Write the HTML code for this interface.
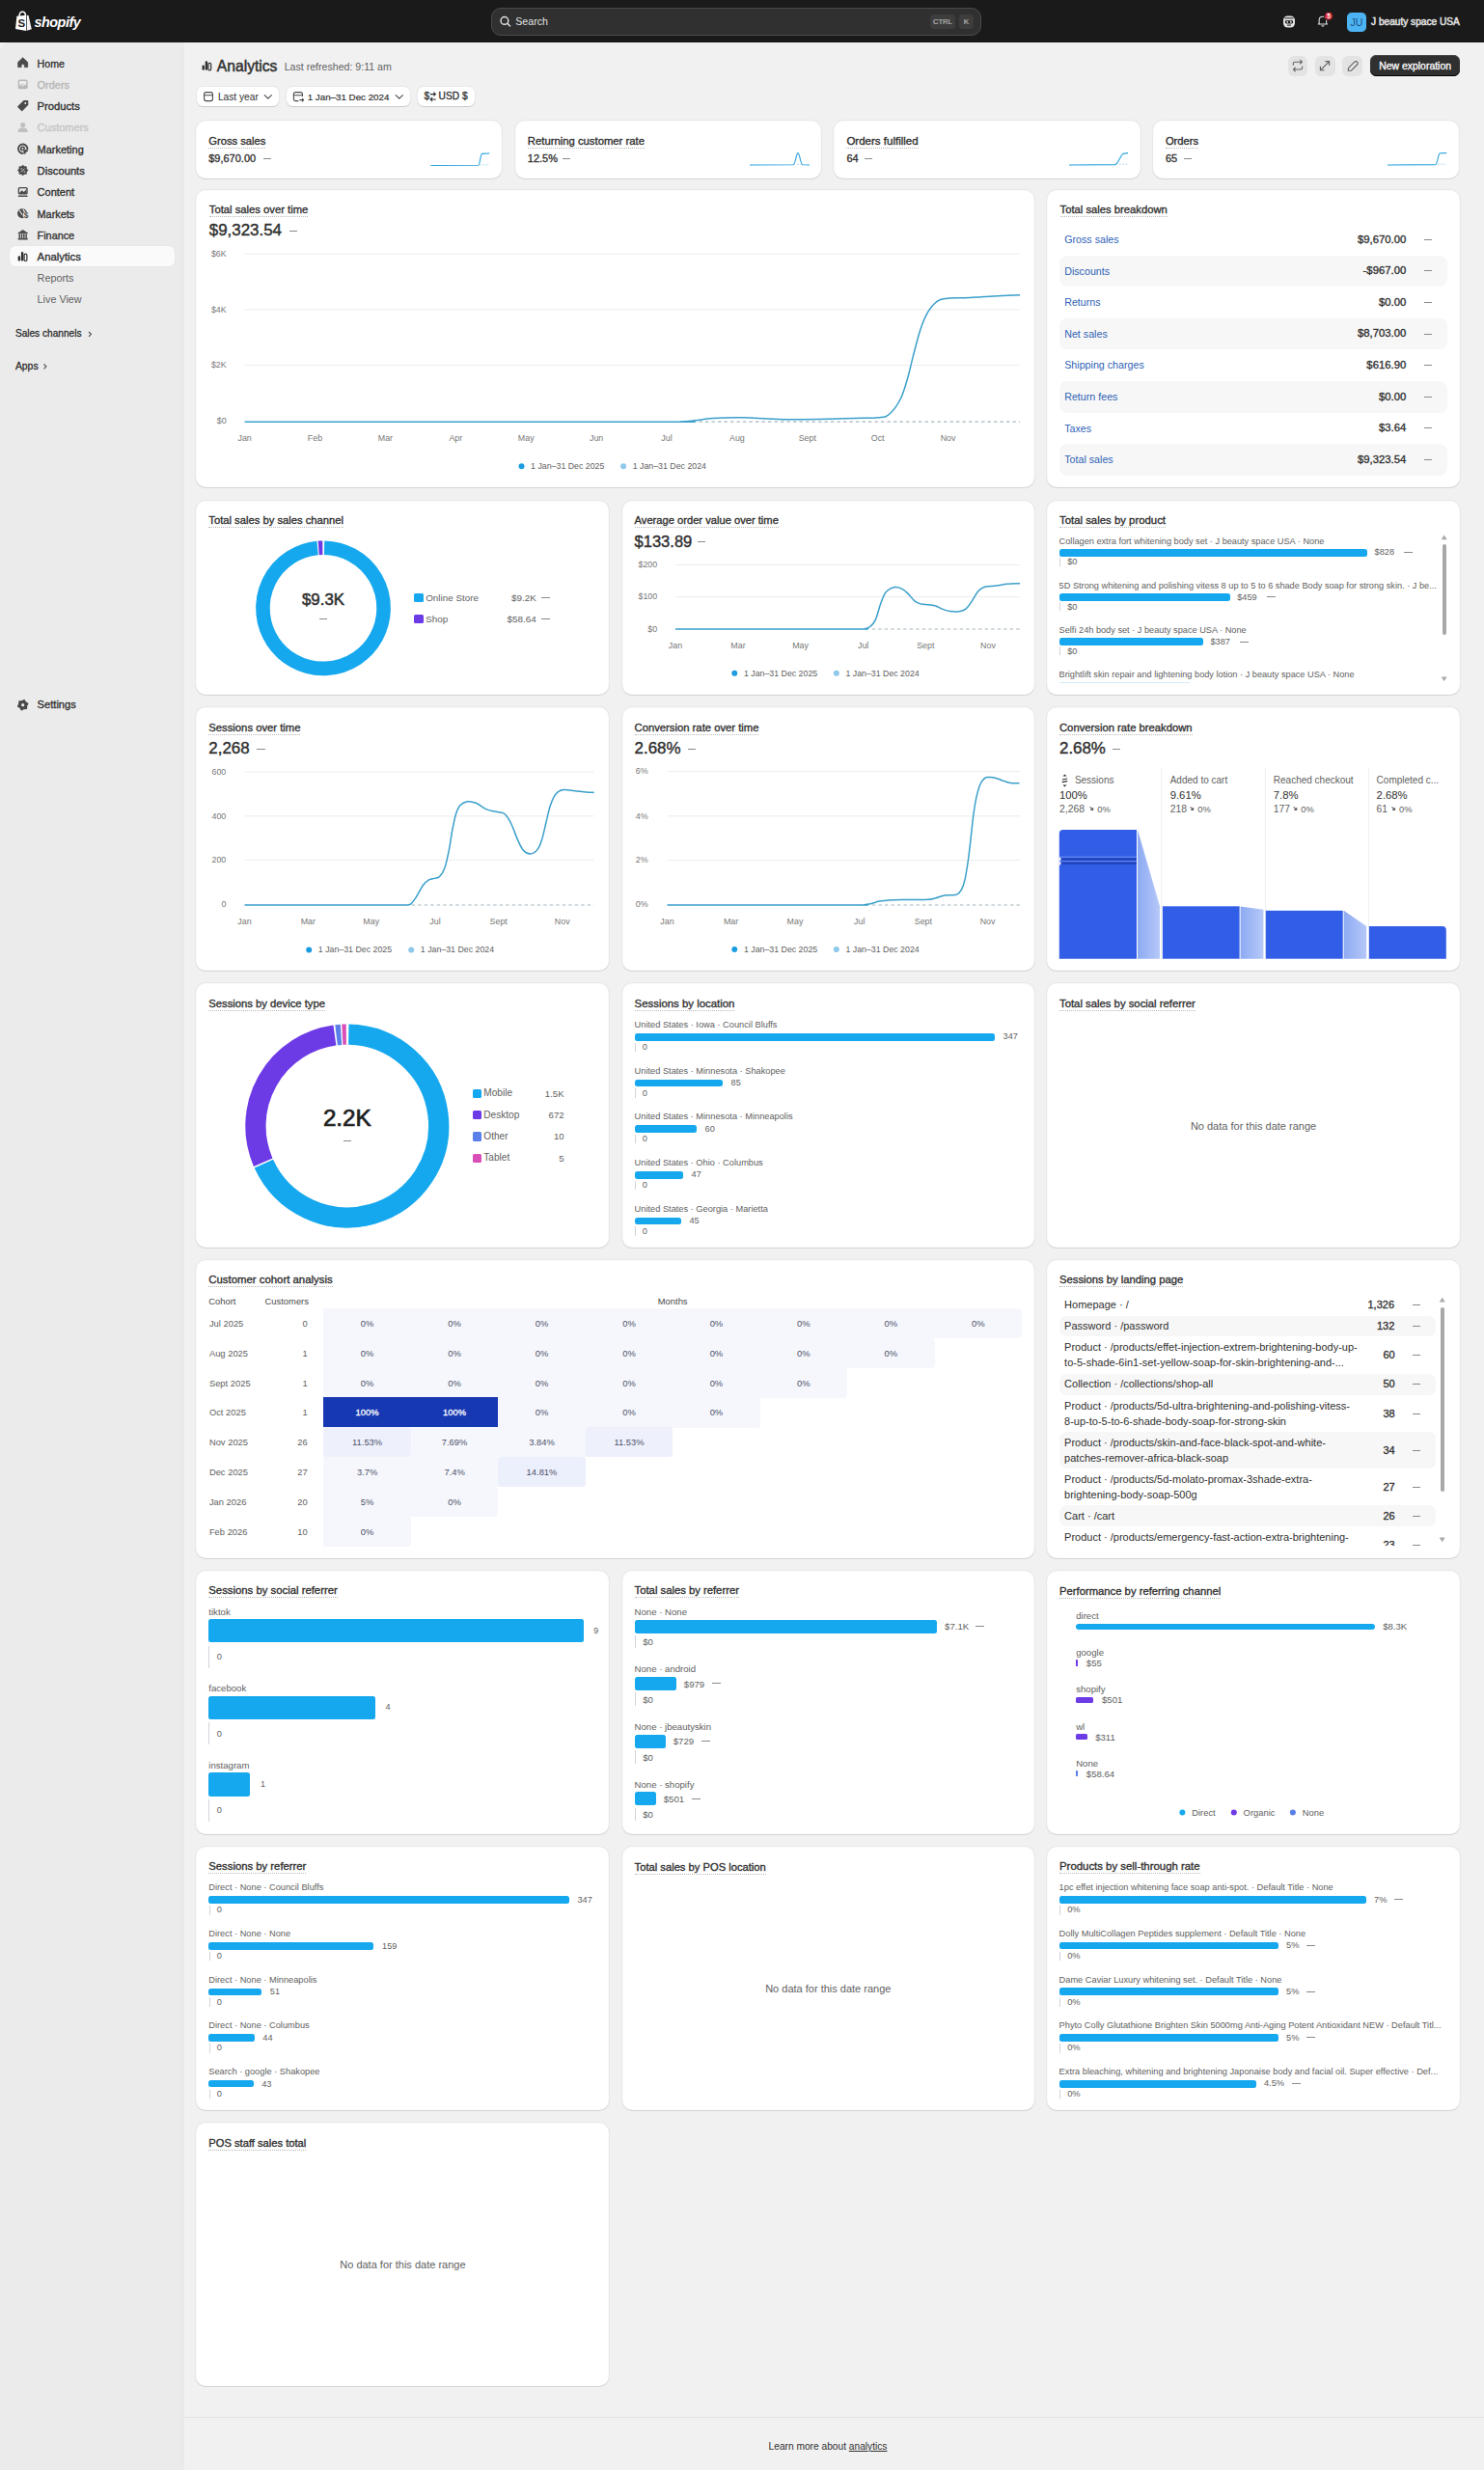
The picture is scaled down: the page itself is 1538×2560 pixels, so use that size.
<!DOCTYPE html><html><head><meta charset="utf-8"><style>
*{box-sizing:border-box;margin:0;padding:0}
html,body{width:1538px;height:2560px;overflow:hidden}
body{background:#f1f1f1;font-family:"Liberation Sans",sans-serif;position:relative;color:#303030}
.card{position:absolute;background:#fff;border-radius:10px;box-shadow:0 1px 0 0 rgba(26,26,26,0.09),0 0 0 1px rgba(26,26,26,0.04),inset 0 0 0 1px rgba(0,0,0,0.015)}
.ttl{border-bottom:1px dotted #b8b8b8;line-height:11px !important;padding-bottom:1px}
svg{position:absolute;left:0;top:0}
</style></head><body>
<div style="position:absolute;left:0.00px;top:0.00px;width:1538.00px;height:44.00px;background:#1a1a1a;border-radius:0px;"></div>
<div style="position:absolute;left:0.00px;top:44.00px;width:191.00px;height:2516.00px;background:#ebebeb;border-radius:0px;border-top-left-radius:10px;"></div>
<div style="position:absolute;left:185.00px;top:50.00px;width:6.00px;height:2510.00px;background:#eaeaea;border-radius:0px;"></div>
<div style="position:absolute;left:191.00px;top:2505.00px;width:1347.00px;height:1.00px;background:#e3e3e3;border-radius:0px;"></div>
<div class="card" style="left:203.20px;top:125.00px;width:317.30px;height:60.20px"></div>
<div class="card" style="left:533.80px;top:125.00px;width:317.30px;height:60.20px"></div>
<div class="card" style="left:864.40px;top:125.00px;width:317.30px;height:60.20px"></div>
<div class="card" style="left:1194.90px;top:125.00px;width:317.30px;height:60.20px"></div>
<div class="card" style="left:203.20px;top:196.50px;width:869.10px;height:308.80px"></div>
<div class="card" style="left:1085.20px;top:196.50px;width:427.50px;height:308.80px"></div>
<div class="card" style="left:203.20px;top:519.00px;width:427.50px;height:201.00px"></div>
<div class="card" style="left:644.80px;top:519.00px;width:427.50px;height:201.00px"></div>
<div class="card" style="left:1085.20px;top:519.00px;width:427.50px;height:201.00px"></div>
<div class="card" style="left:203.20px;top:733.20px;width:427.50px;height:273.00px"></div>
<div class="card" style="left:644.80px;top:733.20px;width:427.50px;height:273.00px"></div>
<div class="card" style="left:1085.20px;top:733.20px;width:427.50px;height:273.00px"></div>
<div class="card" style="left:203.20px;top:1019.30px;width:427.50px;height:273.30px"></div>
<div class="card" style="left:644.80px;top:1019.30px;width:427.50px;height:273.30px"></div>
<div class="card" style="left:1085.20px;top:1019.30px;width:427.50px;height:273.30px"></div>
<div class="card" style="left:203.20px;top:1628.00px;width:427.50px;height:272.60px"></div>
<div class="card" style="left:644.80px;top:1628.00px;width:427.50px;height:272.60px"></div>
<div class="card" style="left:1085.20px;top:1628.00px;width:427.50px;height:272.60px"></div>
<div class="card" style="left:203.20px;top:1914.20px;width:427.50px;height:272.80px"></div>
<div class="card" style="left:644.80px;top:1914.20px;width:427.50px;height:272.80px"></div>
<div class="card" style="left:1085.20px;top:1914.20px;width:427.50px;height:272.80px"></div>
<div class="card" style="left:203.20px;top:1305.60px;width:869.10px;height:309.00px"></div>
<div class="card" style="left:1085.20px;top:1305.60px;width:427.50px;height:309.00px"></div>
<div class="card" style="left:203.20px;top:2200.20px;width:427.50px;height:273.20px"></div>
<div style="position:absolute;left:35.4px;top:15.8px;font-size:14.4px;line-height:14.4px;font-weight:700;font-style:italic;letter-spacing:-0.45px;color:#fff;white-space:nowrap">shopify</div>
<div style="position:absolute;left:508.90px;top:7.90px;width:508.20px;height:29.00px;background:#303030;border-radius:10px;border:1px solid #4a4a4a;"></div>
<div style="position:absolute;left:534.30px;top:16.13px;font-size:10.6px;line-height:12.72px;color:#e3e3e3;white-space:nowrap;">Search</div>
<div style="position:absolute;left:963.60px;top:15.00px;width:26.40px;height:15.30px;background:#3d3d3d;border-radius:4px;"></div>
<div style="position:absolute;left:676.80px;width:600px;text-align:center;top:18.22px;font-size:7.55px;line-height:9.06px;color:#b5b5b5;-webkit-text-stroke:0.23px #b5b5b5;white-space:nowrap;">CTRL</div>
<div style="position:absolute;left:994.00px;top:15.00px;width:15.00px;height:15.30px;background:#3d3d3d;border-radius:4px;"></div>
<div style="position:absolute;left:701.50px;width:600px;text-align:center;top:17.93px;font-size:8.01px;line-height:9.61px;color:#b5b5b5;-webkit-text-stroke:0.24px #b5b5b5;white-space:nowrap;">K</div>
<div style="position:absolute;left:1395.00px;top:11.50px;width:21.80px;height:22.20px;background:#4cb4f2;border-radius:6px;border:1px solid #1a1a1a;"></div>
<div style="position:absolute;left:1105.90px;width:600px;text-align:center;top:16.73px;font-size:10.6px;line-height:12.72px;color:#1f4d86;white-space:nowrap;">JU</div>
<div style="position:absolute;left:1421.00px;top:16.92px;font-size:10.13px;line-height:12.16px;color:#e3e3e3;-webkit-text-stroke:0.5px #e3e3e3;white-space:nowrap;">J beauty space USA</div>
<div style="position:absolute;left:10.10px;top:255.00px;width:170.80px;height:21.30px;background:#fafafa;border-radius:6px;box-shadow:0 0 0 0.5px rgba(0,0,0,0.03);"></div>
<div style="position:absolute;left:38.60px;top:59.52px;font-size:10.62px;line-height:12.74px;color:#303030;-webkit-text-stroke:0.32px #303030;white-space:nowrap;">Home</div>
<div style="position:absolute;left:38.60px;top:81.72px;font-size:10.94px;line-height:13.13px;color:#b5b5b5;-webkit-text-stroke:0.33px #b5b5b5;white-space:nowrap;">Orders</div>
<div style="position:absolute;left:38.60px;top:103.86px;font-size:11.2px;line-height:13.44px;color:#303030;-webkit-text-stroke:0.34px #303030;white-space:nowrap;">Products</div>
<div style="position:absolute;left:38.60px;top:126.27px;font-size:11.02px;line-height:13.22px;color:#c5c5c5;-webkit-text-stroke:0.33px #c5c5c5;white-space:nowrap;">Customers</div>
<div style="position:absolute;left:38.60px;top:148.50px;font-size:10.97px;line-height:13.16px;color:#303030;-webkit-text-stroke:0.33px #303030;white-space:nowrap;">Marketing</div>
<div style="position:absolute;left:38.60px;top:170.64px;font-size:11.23px;line-height:13.48px;color:#303030;-webkit-text-stroke:0.34px #303030;white-space:nowrap;">Discounts</div>
<div style="position:absolute;left:38.60px;top:193.18px;font-size:11.0px;line-height:13.2px;color:#303030;-webkit-text-stroke:0.33px #303030;white-space:nowrap;">Content</div>
<div style="position:absolute;left:38.60px;top:215.58px;font-size:10.84px;line-height:13.01px;color:#303030;-webkit-text-stroke:0.33px #303030;white-space:nowrap;">Markets</div>
<div style="position:absolute;left:38.60px;top:237.88px;font-size:10.83px;line-height:13.0px;color:#303030;-webkit-text-stroke:0.32px #303030;white-space:nowrap;">Finance</div>
<div style="position:absolute;left:38.60px;top:259.97px;font-size:11.33px;line-height:13.6px;color:#303030;-webkit-text-stroke:0.34px #303030;white-space:nowrap;">Analytics</div>
<div style="position:absolute;left:38.60px;top:281.70px;font-size:10.8px;line-height:12.96px;color:#616161;white-space:nowrap;">Reports</div>
<div style="position:absolute;left:38.60px;top:303.90px;font-size:10.8px;line-height:12.96px;color:#616161;white-space:nowrap;">Live View</div>
<div style="position:absolute;left:15.90px;top:340.33px;font-size:10.12px;line-height:12.14px;color:#303030;-webkit-text-stroke:0.3px #303030;white-space:nowrap;">Sales channels</div>
<div style="position:absolute;left:15.90px;top:373.64px;font-size:10.42px;line-height:12.5px;color:#303030;-webkit-text-stroke:0.31px #303030;white-space:nowrap;">Apps</div>
<div style="position:absolute;left:38.60px;top:724.09px;font-size:11.14px;line-height:13.37px;color:#303030;-webkit-text-stroke:0.33px #303030;white-space:nowrap;">Settings</div>
<div style="position:absolute;left:224.80px;top:59.79px;font-size:15.67px;line-height:18.8px;color:#303030;-webkit-text-stroke:0.47px #303030;white-space:nowrap;">Analytics</div>
<div style="position:absolute;left:294.70px;top:62.53px;font-size:10.6px;line-height:12.72px;color:#616161;white-space:nowrap;">Last refreshed: 9:11 am</div>
<div style="position:absolute;left:1334.50px;top:57.70px;width:20.90px;height:20.90px;background:#e3e3e3;border-radius:6px;"></div>
<div style="position:absolute;left:1363.00px;top:57.70px;width:20.90px;height:20.90px;background:#e3e3e3;border-radius:6px;"></div>
<div style="position:absolute;left:1391.40px;top:57.70px;width:20.90px;height:20.90px;background:#e3e3e3;border-radius:6px;"></div>
<div style="position:absolute;left:1420.00px;top:57.30px;width:93.30px;height:21.60px;background:#303030;border-radius:6.5px;box-shadow:inset 0 -1px 0 #000, inset 0 1px 0 #4a4a4a;"></div>
<div style="position:absolute;left:1166.60px;width:600px;text-align:center;top:62.82px;font-size:10.45px;line-height:12.54px;color:#ffffff;-webkit-text-stroke:0.31px #ffffff;white-space:nowrap;">New exploration</div>
<div style="position:absolute;left:204.20px;top:90.10px;width:84.70px;height:20.20px;background:#ffffff;border-radius:6px;box-shadow:0 1px 0 0 rgba(0,0,0,0.12), 0 0 0 1px rgba(0,0,0,0.04);"></div>
<div style="position:absolute;left:297.20px;top:90.10px;width:127.60px;height:20.20px;background:#ffffff;border-radius:6px;box-shadow:0 1px 0 0 rgba(0,0,0,0.12), 0 0 0 1px rgba(0,0,0,0.04);"></div>
<div style="position:absolute;left:432.80px;top:90.10px;width:59.10px;height:20.20px;background:#ffffff;border-radius:6px;box-shadow:0 1px 0 0 rgba(0,0,0,0.12), 0 0 0 1px rgba(0,0,0,0.04);"></div>
<div style="position:absolute;left:225.90px;top:94.98px;font-size:10.2px;line-height:12.24px;color:#303030;white-space:nowrap;">Last year</div>
<div style="position:absolute;left:318.70px;top:94.83px;font-size:9.78px;line-height:11.74px;color:#303030;-webkit-text-stroke:0.18px #303030;white-space:nowrap;">1 Jan–31 Dec 2024</div>
<div style="position:absolute;left:439.40px;top:94.38px;font-size:10.2px;line-height:12.24px;color:#303030;-webkit-text-stroke:0.31px #303030;white-space:nowrap;">$</div>
<div style="position:absolute;left:454.60px;top:94.38px;font-size:10.2px;line-height:12.24px;color:#303030;-webkit-text-stroke:0.31px #303030;white-space:nowrap;">USD $</div>
<div class="ttl" style="position:absolute;left:216.20px;top:140.75px;font-size:11.22px;line-height:13.46px;color:#303030;-webkit-text-stroke:0.34px #303030;white-space:nowrap;">Gross sales</div>
<div style="position:absolute;left:216.20px;top:157.98px;font-size:11.0px;line-height:13.2px;color:#303030;-webkit-text-stroke:0.33px #303030;white-space:nowrap;">$9,670.00</div>
<div style="position:absolute;left:272.80px;top:164.10px;width:8.20px;height:1.00px;background:#8a8a8a;border-radius:0px;"></div>
<div class="ttl" style="position:absolute;left:546.80px;top:140.69px;font-size:11.31px;line-height:13.57px;color:#303030;-webkit-text-stroke:0.34px #303030;white-space:nowrap;">Returning customer rate</div>
<div style="position:absolute;left:546.80px;top:157.98px;font-size:11.0px;line-height:13.2px;color:#303030;-webkit-text-stroke:0.33px #303030;white-space:nowrap;">12.5%</div>
<div style="position:absolute;left:582.50px;top:164.10px;width:8.20px;height:1.00px;background:#8a8a8a;border-radius:0px;"></div>
<div class="ttl" style="position:absolute;left:877.40px;top:140.55px;font-size:11.53px;line-height:13.84px;color:#303030;-webkit-text-stroke:0.35px #303030;white-space:nowrap;">Orders fulfilled</div>
<div style="position:absolute;left:877.40px;top:157.98px;font-size:11.0px;line-height:13.2px;color:#303030;-webkit-text-stroke:0.33px #303030;white-space:nowrap;">64</div>
<div style="position:absolute;left:896.10px;top:164.10px;width:8.20px;height:1.00px;background:#8a8a8a;border-radius:0px;"></div>
<div class="ttl" style="position:absolute;left:1207.90px;top:140.75px;font-size:11.21px;line-height:13.45px;color:#303030;-webkit-text-stroke:0.34px #303030;white-space:nowrap;">Orders</div>
<div style="position:absolute;left:1207.90px;top:157.98px;font-size:11.0px;line-height:13.2px;color:#303030;-webkit-text-stroke:0.33px #303030;white-space:nowrap;">65</div>
<div style="position:absolute;left:1226.60px;top:164.10px;width:8.20px;height:1.00px;background:#8a8a8a;border-radius:0px;"></div>
<div class="ttl" style="position:absolute;left:216.80px;top:212.42px;font-size:11.26px;line-height:13.51px;color:#303030;-webkit-text-stroke:0.34px #303030;white-space:nowrap;">Total sales over time</div>
<div style="position:absolute;left:216.80px;top:229.32px;font-size:16.9px;line-height:20.28px;color:#303030;-webkit-text-stroke:0.42px #303030;white-space:nowrap;">$9,323.54</div>
<div style="position:absolute;left:300.20px;top:239.10px;width:8.20px;height:1.00px;background:#8a8a8a;border-radius:0px;"></div>
<div style="position:absolute;right:1303.30px;top:257.98px;font-size:8.9px;line-height:10.68px;color:#777777;white-space:nowrap;">$6K</div>
<div style="position:absolute;right:1303.30px;top:315.68px;font-size:8.9px;line-height:10.68px;color:#777777;white-space:nowrap;">$4K</div>
<div style="position:absolute;right:1303.30px;top:373.18px;font-size:8.9px;line-height:10.68px;color:#777777;white-space:nowrap;">$2K</div>
<div style="position:absolute;right:1303.30px;top:431.18px;font-size:8.9px;line-height:10.68px;color:#777777;white-space:nowrap;">$0</div>
<div style="position:absolute;left:-46.40px;width:600px;text-align:center;top:448.98px;font-size:8.9px;line-height:10.68px;color:#777777;white-space:nowrap;">Jan</div>
<div style="position:absolute;left:26.50px;width:600px;text-align:center;top:448.98px;font-size:8.9px;line-height:10.68px;color:#777777;white-space:nowrap;">Feb</div>
<div style="position:absolute;left:99.40px;width:600px;text-align:center;top:448.98px;font-size:8.9px;line-height:10.68px;color:#777777;white-space:nowrap;">Mar</div>
<div style="position:absolute;left:172.30px;width:600px;text-align:center;top:448.98px;font-size:8.9px;line-height:10.68px;color:#777777;white-space:nowrap;">Apr</div>
<div style="position:absolute;left:245.20px;width:600px;text-align:center;top:448.98px;font-size:8.9px;line-height:10.68px;color:#777777;white-space:nowrap;">May</div>
<div style="position:absolute;left:318.10px;width:600px;text-align:center;top:448.98px;font-size:8.9px;line-height:10.68px;color:#777777;white-space:nowrap;">Jun</div>
<div style="position:absolute;left:391.00px;width:600px;text-align:center;top:448.98px;font-size:8.9px;line-height:10.68px;color:#777777;white-space:nowrap;">Jul</div>
<div style="position:absolute;left:463.90px;width:600px;text-align:center;top:448.98px;font-size:8.9px;line-height:10.68px;color:#777777;white-space:nowrap;">Aug</div>
<div style="position:absolute;left:536.80px;width:600px;text-align:center;top:448.98px;font-size:8.9px;line-height:10.68px;color:#777777;white-space:nowrap;">Sept</div>
<div style="position:absolute;left:609.70px;width:600px;text-align:center;top:448.98px;font-size:8.9px;line-height:10.68px;color:#777777;white-space:nowrap;">Oct</div>
<div style="position:absolute;left:682.60px;width:600px;text-align:center;top:448.98px;font-size:8.9px;line-height:10.68px;color:#777777;white-space:nowrap;">Nov</div>
<div style="position:absolute;left:550.10px;top:478.04px;font-size:8.8px;line-height:10.56px;color:#616161;white-space:nowrap;">1 Jan–31 Dec 2025</div>
<div style="position:absolute;left:655.70px;top:478.04px;font-size:8.8px;line-height:10.56px;color:#616161;white-space:nowrap;">1 Jan–31 Dec 2024</div>
<div class="ttl" style="position:absolute;left:1098.50px;top:212.12px;font-size:11.25px;line-height:13.5px;color:#303030;-webkit-text-stroke:0.34px #303030;white-space:nowrap;">Total sales breakdown</div>
<div style="position:absolute;left:1103.20px;top:241.97px;font-size:10.7px;line-height:12.84px;color:#2f62b5;white-space:nowrap;">Gross sales</div>
<div style="position:absolute;right:80.80px;top:241.59px;font-size:11.3px;line-height:13.56px;color:#303030;-webkit-text-stroke:0.34px #303030;white-space:nowrap;">$9,670.00</div>
<div style="position:absolute;left:1475.70px;top:247.80px;width:8.20px;height:1.00px;background:#8a8a8a;border-radius:0px;"></div>
<div style="position:absolute;left:1098.00px;top:264.60px;width:402.40px;height:32.50px;background:#f7f7f7;border-radius:8px;"></div>
<div style="position:absolute;left:1103.20px;top:274.57px;font-size:10.7px;line-height:12.84px;color:#2f62b5;white-space:nowrap;">Discounts</div>
<div style="position:absolute;right:80.80px;top:274.19px;font-size:11.3px;line-height:13.56px;color:#303030;-webkit-text-stroke:0.34px #303030;white-space:nowrap;">-$967.00</div>
<div style="position:absolute;left:1475.70px;top:280.40px;width:8.20px;height:1.00px;background:#8a8a8a;border-radius:0px;"></div>
<div style="position:absolute;left:1103.20px;top:307.17px;font-size:10.7px;line-height:12.84px;color:#2f62b5;white-space:nowrap;">Returns</div>
<div style="position:absolute;right:80.80px;top:306.79px;font-size:11.3px;line-height:13.56px;color:#303030;-webkit-text-stroke:0.34px #303030;white-space:nowrap;">$0.00</div>
<div style="position:absolute;left:1475.70px;top:313.00px;width:8.20px;height:1.00px;background:#8a8a8a;border-radius:0px;"></div>
<div style="position:absolute;left:1098.00px;top:329.80px;width:402.40px;height:32.50px;background:#f7f7f7;border-radius:8px;"></div>
<div style="position:absolute;left:1103.20px;top:339.77px;font-size:10.7px;line-height:12.84px;color:#2f62b5;white-space:nowrap;">Net sales</div>
<div style="position:absolute;right:80.80px;top:339.39px;font-size:11.3px;line-height:13.56px;color:#303030;-webkit-text-stroke:0.34px #303030;white-space:nowrap;">$8,703.00</div>
<div style="position:absolute;left:1475.70px;top:345.60px;width:8.20px;height:1.00px;background:#8a8a8a;border-radius:0px;"></div>
<div style="position:absolute;left:1103.20px;top:372.37px;font-size:10.7px;line-height:12.84px;color:#2f62b5;white-space:nowrap;">Shipping charges</div>
<div style="position:absolute;right:80.80px;top:371.99px;font-size:11.3px;line-height:13.56px;color:#303030;-webkit-text-stroke:0.34px #303030;white-space:nowrap;">$616.90</div>
<div style="position:absolute;left:1475.70px;top:378.20px;width:8.20px;height:1.00px;background:#8a8a8a;border-radius:0px;"></div>
<div style="position:absolute;left:1098.00px;top:395.00px;width:402.40px;height:32.50px;background:#f7f7f7;border-radius:8px;"></div>
<div style="position:absolute;left:1103.20px;top:404.97px;font-size:10.7px;line-height:12.84px;color:#2f62b5;white-space:nowrap;">Return fees</div>
<div style="position:absolute;right:80.80px;top:404.59px;font-size:11.3px;line-height:13.56px;color:#303030;-webkit-text-stroke:0.34px #303030;white-space:nowrap;">$0.00</div>
<div style="position:absolute;left:1475.70px;top:410.80px;width:8.20px;height:1.00px;background:#8a8a8a;border-radius:0px;"></div>
<div style="position:absolute;left:1103.20px;top:437.57px;font-size:10.7px;line-height:12.84px;color:#2f62b5;white-space:nowrap;">Taxes</div>
<div style="position:absolute;right:80.80px;top:437.19px;font-size:11.3px;line-height:13.56px;color:#303030;-webkit-text-stroke:0.34px #303030;white-space:nowrap;">$3.64</div>
<div style="position:absolute;left:1475.70px;top:443.40px;width:8.20px;height:1.00px;background:#8a8a8a;border-radius:0px;"></div>
<div style="position:absolute;left:1098.00px;top:460.20px;width:402.40px;height:32.50px;background:#f7f7f7;border-radius:8px;"></div>
<div style="position:absolute;left:1103.20px;top:470.17px;font-size:10.7px;line-height:12.84px;color:#2f62b5;white-space:nowrap;">Total sales</div>
<div style="position:absolute;right:80.80px;top:469.79px;font-size:11.3px;line-height:13.56px;color:#303030;-webkit-text-stroke:0.34px #303030;white-space:nowrap;">$9,323.54</div>
<div style="position:absolute;left:1475.70px;top:476.00px;width:8.20px;height:1.00px;background:#8a8a8a;border-radius:0px;"></div>
<div class="ttl" style="position:absolute;left:216.30px;top:533.94px;font-size:11.23px;line-height:13.48px;color:#303030;-webkit-text-stroke:0.34px #303030;white-space:nowrap;">Total sales by sales channel</div>
<div style="position:absolute;left:35.00px;width:600px;text-align:center;top:611.85px;font-size:16.85px;line-height:20.22px;color:#303030;-webkit-text-stroke:0.51px #303030;white-space:nowrap;">$9.3K</div>
<div style="position:absolute;left:331.20px;top:640.90px;width:7.60px;height:1.00px;background:#8a8a8a;border-radius:0px;"></div>
<div style="position:absolute;left:429.30px;top:614.90px;width:9.30px;height:9.30px;background:#16a8ee;border-radius:1.5px;"></div>
<div style="position:absolute;left:429.30px;top:636.90px;width:9.30px;height:9.30px;background:#6d3be6;border-radius:1.5px;"></div>
<div style="position:absolute;left:441.20px;top:613.76px;font-size:9.9px;line-height:11.88px;color:#616161;white-space:nowrap;">Online Store</div>
<div style="position:absolute;left:441.20px;top:635.76px;font-size:9.9px;line-height:11.88px;color:#616161;white-space:nowrap;">Shop</div>
<div style="position:absolute;right:982.20px;top:613.76px;font-size:9.9px;line-height:11.88px;color:#616161;white-space:nowrap;">$9.2K</div>
<div style="position:absolute;right:982.20px;top:635.76px;font-size:9.9px;line-height:11.88px;color:#616161;white-space:nowrap;">$58.64</div>
<div style="position:absolute;left:561.20px;top:618.90px;width:8.60px;height:1.00px;background:#8a8a8a;border-radius:0px;"></div>
<div style="position:absolute;left:561.20px;top:640.90px;width:8.60px;height:1.00px;background:#8a8a8a;border-radius:0px;"></div>
<div class="ttl" style="position:absolute;left:657.60px;top:534.28px;font-size:11.17px;line-height:13.4px;color:#303030;-webkit-text-stroke:0.34px #303030;white-space:nowrap;">Average order value over time</div>
<div style="position:absolute;left:657.60px;top:551.67px;font-size:16.5px;line-height:19.8px;color:#303030;-webkit-text-stroke:0.42px #303030;white-space:nowrap;">$133.89</div>
<div style="position:absolute;left:722.60px;top:560.90px;width:8.20px;height:1.00px;background:#8a8a8a;border-radius:0px;"></div>
<div style="position:absolute;right:856.80px;top:580.18px;font-size:8.9px;line-height:10.68px;color:#777777;white-space:nowrap;">$200</div>
<div style="position:absolute;right:856.80px;top:613.48px;font-size:8.9px;line-height:10.68px;color:#777777;white-space:nowrap;">$100</div>
<div style="position:absolute;right:856.80px;top:646.58px;font-size:8.9px;line-height:10.68px;color:#777777;white-space:nowrap;">$0</div>
<div style="position:absolute;left:400.00px;width:600px;text-align:center;top:663.58px;font-size:8.9px;line-height:10.68px;color:#777777;white-space:nowrap;">Jan</div>
<div style="position:absolute;left:465.00px;width:600px;text-align:center;top:663.58px;font-size:8.9px;line-height:10.68px;color:#777777;white-space:nowrap;">Mar</div>
<div style="position:absolute;left:529.60px;width:600px;text-align:center;top:663.58px;font-size:8.9px;line-height:10.68px;color:#777777;white-space:nowrap;">May</div>
<div style="position:absolute;left:594.70px;width:600px;text-align:center;top:663.58px;font-size:8.9px;line-height:10.68px;color:#777777;white-space:nowrap;">Jul</div>
<div style="position:absolute;left:659.30px;width:600px;text-align:center;top:663.58px;font-size:8.9px;line-height:10.68px;color:#777777;white-space:nowrap;">Sept</div>
<div style="position:absolute;left:724.00px;width:600px;text-align:center;top:663.58px;font-size:8.9px;line-height:10.68px;color:#777777;white-space:nowrap;">Nov</div>
<div style="position:absolute;left:770.90px;top:692.64px;font-size:8.8px;line-height:10.56px;color:#616161;white-space:nowrap;">1 Jan–31 Dec 2025</div>
<div style="position:absolute;left:876.40px;top:692.64px;font-size:8.8px;line-height:10.56px;color:#616161;white-space:nowrap;">1 Jan–31 Dec 2024</div>
<div class="ttl" style="position:absolute;left:1098.00px;top:533.84px;font-size:11.39px;line-height:13.67px;color:#303030;-webkit-text-stroke:0.34px #303030;white-space:nowrap;">Total sales by product</div>
<div style="position:absolute;left:1090px;top:552px;width:400px;height:155px;overflow:hidden">
<div style="position:absolute;left:7.60px;top:4.10px;font-size:9.2px;line-height:11.04px;color:#616161;white-space:nowrap">Collagen extra fort whitening body set · J beauty space USA · None</div>
<div style="position:absolute;left:7.60px;top:16.90px;width:319.36px;height:7.80px;background:#16a8ee;border-radius:2.5px"></div>
<div style="position:absolute;left:334.56px;top:15.40px;font-size:9.2px;line-height:11.04px;color:#616161;white-space:nowrap">$828</div>
<div style="position:absolute;left:365.46px;top:20.30px;width:8.60px;height:1.00px;background:#8a8a8a;border-radius:0px"></div>
<div style="position:absolute;left:7.90px;top:25.90px;width:1.00px;height:9.00px;background:#d2d3dc;border-radius:0px"></div>
<div style="position:absolute;left:16.20px;top:25.40px;font-size:9.2px;line-height:11.04px;color:#616161;white-space:nowrap">$0</div>
<div style="position:absolute;left:7.60px;top:50.20px;font-size:9.2px;line-height:11.04px;color:#616161;white-space:nowrap">5D Strong whitening and polishing vitess 8 up to 5 to 6 shade Body soap for strong skin. · J be...</div>
<div style="position:absolute;left:7.60px;top:63.00px;width:177.04px;height:7.80px;background:#16a8ee;border-radius:2.5px"></div>
<div style="position:absolute;left:192.24px;top:61.50px;font-size:9.2px;line-height:11.04px;color:#616161;white-space:nowrap">$459</div>
<div style="position:absolute;left:223.14px;top:66.40px;width:8.60px;height:1.00px;background:#8a8a8a;border-radius:0px"></div>
<div style="position:absolute;left:7.90px;top:72.00px;width:1.00px;height:9.00px;background:#d2d3dc;border-radius:0px"></div>
<div style="position:absolute;left:16.20px;top:71.50px;font-size:9.2px;line-height:11.04px;color:#616161;white-space:nowrap">$0</div>
<div style="position:absolute;left:7.60px;top:96.30px;font-size:9.2px;line-height:11.04px;color:#616161;white-space:nowrap">Selfi 24h body set · J beauty space USA · None</div>
<div style="position:absolute;left:7.60px;top:109.10px;width:149.27px;height:7.80px;background:#16a8ee;border-radius:2.5px"></div>
<div style="position:absolute;left:164.47px;top:107.60px;font-size:9.2px;line-height:11.04px;color:#616161;white-space:nowrap">$387</div>
<div style="position:absolute;left:195.37px;top:112.50px;width:8.60px;height:1.00px;background:#8a8a8a;border-radius:0px"></div>
<div style="position:absolute;left:7.90px;top:118.10px;width:1.00px;height:9.00px;background:#d2d3dc;border-radius:0px"></div>
<div style="position:absolute;left:16.20px;top:117.60px;font-size:9.2px;line-height:11.04px;color:#616161;white-space:nowrap">$0</div>
<div style="position:absolute;left:7.60px;top:142.40px;font-size:9.2px;line-height:11.04px;color:#616161;white-space:nowrap">Brightlift skin repair and lightening body lotion · J beauty space USA · None</div>
<div style="position:absolute;left:7.60px;top:155.20px;width:142.71px;height:7.80px;background:#16a8ee;border-radius:2.5px"></div>
<div style="position:absolute;left:157.91px;top:153.70px;font-size:9.2px;line-height:11.04px;color:#616161;white-space:nowrap">$370</div>
<div style="position:absolute;left:188.81px;top:158.60px;width:8.60px;height:1.00px;background:#8a8a8a;border-radius:0px"></div>
<div style="position:absolute;left:7.90px;top:164.20px;width:1.00px;height:9.00px;background:#d2d3dc;border-radius:0px"></div>
<div style="position:absolute;left:16.20px;top:163.70px;font-size:9.2px;line-height:11.04px;color:#616161;white-space:nowrap">$0</div>
</div>
<div style="position:absolute;left:1097.60px;top:706.60px;width:135.00px;height:1.00px;background:#d3ebf8;border-radius:0px;"></div>
<div style="position:absolute;left:1494.60px;top:563.60px;width:4.20px;height:94.20px;background:#a8a8a8;border-radius:2.1px;"></div>
<div class="ttl" style="position:absolute;left:216.30px;top:748.90px;font-size:11.28px;line-height:13.54px;color:#303030;-webkit-text-stroke:0.34px #303030;white-space:nowrap;">Sessions over time</div>
<div style="position:absolute;left:216.30px;top:766.02px;font-size:16.9px;line-height:20.28px;color:#303030;-webkit-text-stroke:0.42px #303030;white-space:nowrap;">2,268</div>
<div style="position:absolute;left:266.40px;top:775.70px;width:8.20px;height:1.00px;background:#8a8a8a;border-radius:0px;"></div>
<div style="position:absolute;right:1303.70px;top:794.78px;font-size:8.9px;line-height:10.68px;color:#777777;white-space:nowrap;">600</div>
<div style="position:absolute;right:1303.70px;top:840.68px;font-size:8.9px;line-height:10.68px;color:#777777;white-space:nowrap;">400</div>
<div style="position:absolute;right:1303.70px;top:886.18px;font-size:8.9px;line-height:10.68px;color:#777777;white-space:nowrap;">200</div>
<div style="position:absolute;right:1303.70px;top:932.38px;font-size:8.9px;line-height:10.68px;color:#777777;white-space:nowrap;">0</div>
<div style="position:absolute;left:-46.50px;width:600px;text-align:center;top:949.78px;font-size:8.9px;line-height:10.68px;color:#777777;white-space:nowrap;">Jan</div>
<div style="position:absolute;left:19.30px;width:600px;text-align:center;top:949.78px;font-size:8.9px;line-height:10.68px;color:#777777;white-space:nowrap;">Mar</div>
<div style="position:absolute;left:84.70px;width:600px;text-align:center;top:949.78px;font-size:8.9px;line-height:10.68px;color:#777777;white-space:nowrap;">May</div>
<div style="position:absolute;left:151.00px;width:600px;text-align:center;top:949.78px;font-size:8.9px;line-height:10.68px;color:#777777;white-space:nowrap;">Jul</div>
<div style="position:absolute;left:216.70px;width:600px;text-align:center;top:949.78px;font-size:8.9px;line-height:10.68px;color:#777777;white-space:nowrap;">Sept</div>
<div style="position:absolute;left:282.70px;width:600px;text-align:center;top:949.78px;font-size:8.9px;line-height:10.68px;color:#777777;white-space:nowrap;">Nov</div>
<div style="position:absolute;left:329.80px;top:979.24px;font-size:8.8px;line-height:10.56px;color:#616161;white-space:nowrap;">1 Jan–31 Dec 2025</div>
<div style="position:absolute;left:435.80px;top:979.24px;font-size:8.8px;line-height:10.56px;color:#616161;white-space:nowrap;">1 Jan–31 Dec 2024</div>
<div class="ttl" style="position:absolute;left:657.60px;top:748.92px;font-size:11.26px;line-height:13.51px;color:#303030;-webkit-text-stroke:0.34px #303030;white-space:nowrap;">Conversion rate over time</div>
<div style="position:absolute;left:657.60px;top:766.12px;font-size:16.9px;line-height:20.28px;color:#303030;-webkit-text-stroke:0.42px #303030;white-space:nowrap;">2.68%</div>
<div style="position:absolute;left:712.80px;top:775.70px;width:8.20px;height:1.00px;background:#8a8a8a;border-radius:0px;"></div>
<div style="position:absolute;left:658.80px;top:794.48px;font-size:8.9px;line-height:10.68px;color:#777777;white-space:nowrap;">6%</div>
<div style="position:absolute;left:658.80px;top:840.58px;font-size:8.9px;line-height:10.68px;color:#777777;white-space:nowrap;">4%</div>
<div style="position:absolute;left:658.80px;top:886.38px;font-size:8.9px;line-height:10.68px;color:#777777;white-space:nowrap;">2%</div>
<div style="position:absolute;left:658.80px;top:932.18px;font-size:8.9px;line-height:10.68px;color:#777777;white-space:nowrap;">0%</div>
<div style="position:absolute;left:391.50px;width:600px;text-align:center;top:949.78px;font-size:8.9px;line-height:10.68px;color:#777777;white-space:nowrap;">Jan</div>
<div style="position:absolute;left:457.60px;width:600px;text-align:center;top:949.78px;font-size:8.9px;line-height:10.68px;color:#777777;white-space:nowrap;">Mar</div>
<div style="position:absolute;left:524.00px;width:600px;text-align:center;top:949.78px;font-size:8.9px;line-height:10.68px;color:#777777;white-space:nowrap;">May</div>
<div style="position:absolute;left:590.80px;width:600px;text-align:center;top:949.78px;font-size:8.9px;line-height:10.68px;color:#777777;white-space:nowrap;">Jul</div>
<div style="position:absolute;left:656.90px;width:600px;text-align:center;top:949.78px;font-size:8.9px;line-height:10.68px;color:#777777;white-space:nowrap;">Sept</div>
<div style="position:absolute;left:723.60px;width:600px;text-align:center;top:949.78px;font-size:8.9px;line-height:10.68px;color:#777777;white-space:nowrap;">Nov</div>
<div style="position:absolute;left:770.90px;top:978.84px;font-size:8.8px;line-height:10.56px;color:#616161;white-space:nowrap;">1 Jan–31 Dec 2025</div>
<div style="position:absolute;left:876.40px;top:978.84px;font-size:8.8px;line-height:10.56px;color:#616161;white-space:nowrap;">1 Jan–31 Dec 2024</div>
<div class="ttl" style="position:absolute;left:1098.00px;top:748.92px;font-size:11.25px;line-height:13.5px;color:#303030;-webkit-text-stroke:0.34px #303030;white-space:nowrap;">Conversion rate breakdown</div>
<div style="position:absolute;left:1098.00px;top:766.12px;font-size:16.9px;line-height:20.28px;color:#303030;-webkit-text-stroke:0.42px #303030;white-space:nowrap;">2.68%</div>
<div style="position:absolute;left:1153.20px;top:775.70px;width:8.20px;height:1.00px;background:#8a8a8a;border-radius:0px;"></div>
<div style="position:absolute;left:1203.30px;top:796.00px;width:1.00px;height:197.50px;background:#f0f0f0;border-radius:0px;"></div>
<div style="position:absolute;left:1310.50px;top:796.00px;width:1.00px;height:197.50px;background:#f0f0f0;border-radius:0px;"></div>
<div style="position:absolute;left:1417.60px;top:796.00px;width:1.00px;height:197.50px;background:#f0f0f0;border-radius:0px;"></div>
<div style="position:absolute;left:1113.90px;top:803.30px;font-size:10.0px;line-height:12.0px;color:#616161;white-space:nowrap;">Sessions</div>
<div style="position:absolute;left:1098.00px;top:817.99px;font-size:11.3px;line-height:13.56px;color:#303030;white-space:nowrap;">100%</div>
<div style="position:absolute;left:1098.00px;top:832.75px;font-size:10.4px;line-height:12.48px;color:#616161;white-space:nowrap;">2,268</div>
<div style="position:absolute;left:1137.20px;top:833.27px;font-size:9.4px;line-height:11.28px;color:#616161;white-space:nowrap;">0%</div>
<div style="position:absolute;left:1212.70px;top:803.30px;font-size:10.0px;line-height:12.0px;color:#616161;white-space:nowrap;">Added to cart</div>
<div style="position:absolute;left:1212.70px;top:817.99px;font-size:11.3px;line-height:13.56px;color:#303030;white-space:nowrap;">9.61%</div>
<div style="position:absolute;left:1212.70px;top:832.75px;font-size:10.4px;line-height:12.48px;color:#616161;white-space:nowrap;">218</div>
<div style="position:absolute;left:1241.20px;top:833.27px;font-size:9.4px;line-height:11.28px;color:#616161;white-space:nowrap;">0%</div>
<div style="position:absolute;left:1319.80px;top:803.30px;font-size:10.0px;line-height:12.0px;color:#616161;white-space:nowrap;">Reached checkout</div>
<div style="position:absolute;left:1319.80px;top:817.99px;font-size:11.3px;line-height:13.56px;color:#303030;white-space:nowrap;">7.8%</div>
<div style="position:absolute;left:1319.80px;top:832.75px;font-size:10.4px;line-height:12.48px;color:#616161;white-space:nowrap;">177</div>
<div style="position:absolute;left:1348.30px;top:833.27px;font-size:9.4px;line-height:11.28px;color:#616161;white-space:nowrap;">0%</div>
<div style="position:absolute;left:1426.60px;top:803.30px;font-size:10.0px;line-height:12.0px;color:#616161;white-space:nowrap;">Completed c...</div>
<div style="position:absolute;left:1426.60px;top:817.99px;font-size:11.3px;line-height:13.56px;color:#303030;white-space:nowrap;">2.68%</div>
<div style="position:absolute;left:1426.60px;top:832.75px;font-size:10.4px;line-height:12.48px;color:#616161;white-space:nowrap;">61</div>
<div style="position:absolute;left:1450.10px;top:833.27px;font-size:9.4px;line-height:11.28px;color:#616161;white-space:nowrap;">0%</div>
<div class="ttl" style="position:absolute;left:216.30px;top:1034.92px;font-size:11.26px;line-height:13.51px;color:#303030;-webkit-text-stroke:0.34px #303030;white-space:nowrap;">Sessions by device type</div>
<div style="position:absolute;left:59.80px;width:600px;text-align:center;top:1144.48px;font-size:24.23px;line-height:29.08px;color:#1f1f1f;-webkit-text-stroke:0.73px #1f1f1f;white-space:nowrap;">2.2K</div>
<div style="position:absolute;left:355.60px;top:1182.10px;width:8.40px;height:1.00px;background:#8a8a8a;border-radius:0px;"></div>
<div style="position:absolute;left:489.80px;top:1128.80px;width:9.30px;height:9.30px;background:#16a8ee;border-radius:1.5px;"></div>
<div style="position:absolute;left:501.30px;top:1127.44px;font-size:10.1px;line-height:12.12px;color:#616161;white-space:nowrap;">Mobile</div>
<div style="position:absolute;right:953.40px;top:1127.75px;font-size:9.6px;line-height:11.52px;color:#616161;white-space:nowrap;">1.5K</div>
<div style="position:absolute;left:489.80px;top:1151.10px;width:9.30px;height:9.30px;background:#6d3be6;border-radius:1.5px;"></div>
<div style="position:absolute;left:501.30px;top:1149.74px;font-size:10.1px;line-height:12.12px;color:#616161;white-space:nowrap;">Desktop</div>
<div style="position:absolute;right:953.40px;top:1150.05px;font-size:9.6px;line-height:11.52px;color:#616161;white-space:nowrap;">672</div>
<div style="position:absolute;left:489.80px;top:1173.40px;width:9.30px;height:9.30px;background:#5b7fe8;border-radius:1.5px;"></div>
<div style="position:absolute;left:501.30px;top:1172.04px;font-size:10.1px;line-height:12.12px;color:#616161;white-space:nowrap;">Other</div>
<div style="position:absolute;right:953.40px;top:1172.35px;font-size:9.6px;line-height:11.52px;color:#616161;white-space:nowrap;">10</div>
<div style="position:absolute;left:489.80px;top:1195.70px;width:9.30px;height:9.30px;background:#d84fb8;border-radius:1.5px;"></div>
<div style="position:absolute;left:501.30px;top:1194.34px;font-size:10.1px;line-height:12.12px;color:#616161;white-space:nowrap;">Tablet</div>
<div style="position:absolute;right:953.40px;top:1194.65px;font-size:9.6px;line-height:11.52px;color:#616161;white-space:nowrap;">5</div>
<div class="ttl" style="position:absolute;left:657.60px;top:1035.03px;font-size:11.4px;line-height:13.68px;color:#303030;-webkit-text-stroke:0.34px #303030;white-space:nowrap;">Sessions by location</div>
<div style="position:absolute;left:657.60px;top:1056.87px;font-size:9.25px;line-height:11.1px;color:#616161;white-space:nowrap;">United States · Iowa · Council Bluffs</div>
<div style="position:absolute;left:657.60px;top:1070.80px;width:373.60px;height:7.80px;background:#16a8ee;border-radius:2.5px;"></div>
<div style="position:absolute;left:1039.60px;top:1069.30px;font-size:9.2px;line-height:11.04px;color:#616161;white-space:nowrap;">347</div>
<div style="position:absolute;left:657.90px;top:1080.50px;width:1.00px;height:9.60px;background:#d2d3dc;border-radius:0px;"></div>
<div style="position:absolute;left:665.80px;top:1080.00px;font-size:9.2px;line-height:11.04px;color:#616161;white-space:nowrap;">0</div>
<div style="position:absolute;left:657.60px;top:1104.57px;font-size:9.25px;line-height:11.1px;color:#616161;white-space:nowrap;">United States · Minnesota · Shakopee</div>
<div style="position:absolute;left:657.60px;top:1118.50px;width:91.52px;height:7.80px;background:#16a8ee;border-radius:2.5px;"></div>
<div style="position:absolute;left:757.52px;top:1117.00px;font-size:9.2px;line-height:11.04px;color:#616161;white-space:nowrap;">85</div>
<div style="position:absolute;left:657.90px;top:1128.20px;width:1.00px;height:9.60px;background:#d2d3dc;border-radius:0px;"></div>
<div style="position:absolute;left:665.80px;top:1127.70px;font-size:9.2px;line-height:11.04px;color:#616161;white-space:nowrap;">0</div>
<div style="position:absolute;left:657.60px;top:1152.27px;font-size:9.25px;line-height:11.1px;color:#616161;white-space:nowrap;">United States · Minnesota · Minneapolis</div>
<div style="position:absolute;left:657.60px;top:1166.20px;width:64.60px;height:7.80px;background:#16a8ee;border-radius:2.5px;"></div>
<div style="position:absolute;left:730.60px;top:1164.70px;font-size:9.2px;line-height:11.04px;color:#616161;white-space:nowrap;">60</div>
<div style="position:absolute;left:657.90px;top:1175.90px;width:1.00px;height:9.60px;background:#d2d3dc;border-radius:0px;"></div>
<div style="position:absolute;left:665.80px;top:1175.40px;font-size:9.2px;line-height:11.04px;color:#616161;white-space:nowrap;">0</div>
<div style="position:absolute;left:657.60px;top:1199.97px;font-size:9.25px;line-height:11.1px;color:#616161;white-space:nowrap;">United States · Ohio · Columbus</div>
<div style="position:absolute;left:657.60px;top:1213.90px;width:50.60px;height:7.80px;background:#16a8ee;border-radius:2.5px;"></div>
<div style="position:absolute;left:716.60px;top:1212.40px;font-size:9.2px;line-height:11.04px;color:#616161;white-space:nowrap;">47</div>
<div style="position:absolute;left:657.90px;top:1223.60px;width:1.00px;height:9.60px;background:#d2d3dc;border-radius:0px;"></div>
<div style="position:absolute;left:665.80px;top:1223.10px;font-size:9.2px;line-height:11.04px;color:#616161;white-space:nowrap;">0</div>
<div style="position:absolute;left:657.60px;top:1247.66px;font-size:9.25px;line-height:11.1px;color:#616161;white-space:nowrap;">United States · Georgia · Marietta</div>
<div style="position:absolute;left:657.60px;top:1261.60px;width:48.45px;height:7.80px;background:#16a8ee;border-radius:2.5px;"></div>
<div style="position:absolute;left:714.45px;top:1260.10px;font-size:9.2px;line-height:11.04px;color:#616161;white-space:nowrap;">45</div>
<div style="position:absolute;left:657.90px;top:1271.30px;width:1.00px;height:9.60px;background:#d2d3dc;border-radius:0px;"></div>
<div style="position:absolute;left:665.80px;top:1270.80px;font-size:9.2px;line-height:11.04px;color:#616161;white-space:nowrap;">0</div>
<div class="ttl" style="position:absolute;left:1098.00px;top:1035.08px;font-size:11.32px;line-height:13.58px;color:#303030;-webkit-text-stroke:0.34px #303030;white-space:nowrap;">Total sales by social referrer</div>
<div style="position:absolute;left:999.00px;width:600px;text-align:center;top:1160.78px;font-size:11.0px;line-height:13.2px;color:#616161;white-space:nowrap;">No data for this date range</div>
<div class="ttl" style="position:absolute;left:216.30px;top:1321.14px;font-size:11.38px;line-height:13.66px;color:#303030;-webkit-text-stroke:0.34px #303030;white-space:nowrap;">Customer cohort analysis</div>
<div style="position:absolute;left:216.30px;top:1343.07px;font-size:9.4px;line-height:11.28px;color:#4a4a4a;white-space:nowrap;">Cohort</div>
<div style="position:absolute;left:274.60px;top:1343.07px;font-size:9.4px;line-height:11.28px;color:#4a4a4a;white-space:nowrap;">Customers</div>
<div style="position:absolute;left:681.80px;top:1342.87px;font-size:9.4px;line-height:11.28px;color:#4a4a4a;white-space:nowrap;">Months</div>
<div style="position:absolute;left:216.90px;top:1365.97px;font-size:9.4px;line-height:11.28px;color:#616161;white-space:nowrap;">Jul 2025</div>
<div style="position:absolute;right:1219.40px;top:1365.97px;font-size:9.4px;line-height:11.28px;color:#616161;white-space:nowrap;">0</div>
<div style="position:absolute;left:335.40px;top:1355.80px;width:723.60px;height:31.40px;background:#f6f7fc;border-radius:0px;border-radius:0 4px 4px 0;"></div>
<div style="position:absolute;left:80.62px;width:600px;text-align:center;top:1365.97px;font-size:9.4px;line-height:11.28px;color:#4a5068;white-space:nowrap;">0%</div>
<div style="position:absolute;left:171.07px;width:600px;text-align:center;top:1365.97px;font-size:9.4px;line-height:11.28px;color:#4a5068;white-space:nowrap;">0%</div>
<div style="position:absolute;left:261.52px;width:600px;text-align:center;top:1365.97px;font-size:9.4px;line-height:11.28px;color:#4a5068;white-space:nowrap;">0%</div>
<div style="position:absolute;left:351.98px;width:600px;text-align:center;top:1365.97px;font-size:9.4px;line-height:11.28px;color:#4a5068;white-space:nowrap;">0%</div>
<div style="position:absolute;left:442.43px;width:600px;text-align:center;top:1365.97px;font-size:9.4px;line-height:11.28px;color:#4a5068;white-space:nowrap;">0%</div>
<div style="position:absolute;left:532.88px;width:600px;text-align:center;top:1365.97px;font-size:9.4px;line-height:11.28px;color:#4a5068;white-space:nowrap;">0%</div>
<div style="position:absolute;left:623.33px;width:600px;text-align:center;top:1365.97px;font-size:9.4px;line-height:11.28px;color:#4a5068;white-space:nowrap;">0%</div>
<div style="position:absolute;left:713.77px;width:600px;text-align:center;top:1365.97px;font-size:9.4px;line-height:11.28px;color:#4a5068;white-space:nowrap;">0%</div>
<div style="position:absolute;left:216.90px;top:1396.77px;font-size:9.4px;line-height:11.28px;color:#616161;white-space:nowrap;">Aug 2025</div>
<div style="position:absolute;right:1219.40px;top:1396.77px;font-size:9.4px;line-height:11.28px;color:#616161;white-space:nowrap;">1</div>
<div style="position:absolute;left:335.40px;top:1386.60px;width:633.15px;height:31.40px;background:#f6f7fc;border-radius:0px;border-radius:0 4px 4px 0;"></div>
<div style="position:absolute;left:80.62px;width:600px;text-align:center;top:1396.77px;font-size:9.4px;line-height:11.28px;color:#4a5068;white-space:nowrap;">0%</div>
<div style="position:absolute;left:171.07px;width:600px;text-align:center;top:1396.77px;font-size:9.4px;line-height:11.28px;color:#4a5068;white-space:nowrap;">0%</div>
<div style="position:absolute;left:261.52px;width:600px;text-align:center;top:1396.77px;font-size:9.4px;line-height:11.28px;color:#4a5068;white-space:nowrap;">0%</div>
<div style="position:absolute;left:351.98px;width:600px;text-align:center;top:1396.77px;font-size:9.4px;line-height:11.28px;color:#4a5068;white-space:nowrap;">0%</div>
<div style="position:absolute;left:442.43px;width:600px;text-align:center;top:1396.77px;font-size:9.4px;line-height:11.28px;color:#4a5068;white-space:nowrap;">0%</div>
<div style="position:absolute;left:532.88px;width:600px;text-align:center;top:1396.77px;font-size:9.4px;line-height:11.28px;color:#4a5068;white-space:nowrap;">0%</div>
<div style="position:absolute;left:623.33px;width:600px;text-align:center;top:1396.77px;font-size:9.4px;line-height:11.28px;color:#4a5068;white-space:nowrap;">0%</div>
<div style="position:absolute;left:216.90px;top:1427.57px;font-size:9.4px;line-height:11.28px;color:#616161;white-space:nowrap;">Sept 2025</div>
<div style="position:absolute;right:1219.40px;top:1427.57px;font-size:9.4px;line-height:11.28px;color:#616161;white-space:nowrap;">1</div>
<div style="position:absolute;left:335.40px;top:1417.40px;width:542.70px;height:31.40px;background:#f6f7fc;border-radius:0px;border-radius:0 4px 4px 0;"></div>
<div style="position:absolute;left:80.62px;width:600px;text-align:center;top:1427.57px;font-size:9.4px;line-height:11.28px;color:#4a5068;white-space:nowrap;">0%</div>
<div style="position:absolute;left:171.07px;width:600px;text-align:center;top:1427.57px;font-size:9.4px;line-height:11.28px;color:#4a5068;white-space:nowrap;">0%</div>
<div style="position:absolute;left:261.52px;width:600px;text-align:center;top:1427.57px;font-size:9.4px;line-height:11.28px;color:#4a5068;white-space:nowrap;">0%</div>
<div style="position:absolute;left:351.98px;width:600px;text-align:center;top:1427.57px;font-size:9.4px;line-height:11.28px;color:#4a5068;white-space:nowrap;">0%</div>
<div style="position:absolute;left:442.43px;width:600px;text-align:center;top:1427.57px;font-size:9.4px;line-height:11.28px;color:#4a5068;white-space:nowrap;">0%</div>
<div style="position:absolute;left:532.88px;width:600px;text-align:center;top:1427.57px;font-size:9.4px;line-height:11.28px;color:#4a5068;white-space:nowrap;">0%</div>
<div style="position:absolute;left:216.90px;top:1458.37px;font-size:9.4px;line-height:11.28px;color:#616161;white-space:nowrap;">Oct 2025</div>
<div style="position:absolute;right:1219.40px;top:1458.37px;font-size:9.4px;line-height:11.28px;color:#616161;white-space:nowrap;">1</div>
<div style="position:absolute;left:335.40px;top:1448.20px;width:452.25px;height:31.40px;background:#f6f7fc;border-radius:0px;border-radius:0 4px 4px 0;"></div>
<div style="position:absolute;left:335.20px;top:1448.20px;width:90.85px;height:31.40px;background:#1738b3;border-radius:0px;"></div>
<div style="position:absolute;left:80.62px;width:600px;text-align:center;top:1458.37px;font-size:9.4px;line-height:11.28px;color:#ffffff;-webkit-text-stroke:0.28px #ffffff;white-space:nowrap;">100%</div>
<div style="position:absolute;left:425.65px;top:1448.20px;width:90.85px;height:31.40px;background:#1738b3;border-radius:0px;"></div>
<div style="position:absolute;left:171.07px;width:600px;text-align:center;top:1458.37px;font-size:9.4px;line-height:11.28px;color:#ffffff;-webkit-text-stroke:0.28px #ffffff;white-space:nowrap;">100%</div>
<div style="position:absolute;left:261.52px;width:600px;text-align:center;top:1458.37px;font-size:9.4px;line-height:11.28px;color:#4a5068;white-space:nowrap;">0%</div>
<div style="position:absolute;left:351.98px;width:600px;text-align:center;top:1458.37px;font-size:9.4px;line-height:11.28px;color:#4a5068;white-space:nowrap;">0%</div>
<div style="position:absolute;left:442.43px;width:600px;text-align:center;top:1458.37px;font-size:9.4px;line-height:11.28px;color:#4a5068;white-space:nowrap;">0%</div>
<div style="position:absolute;left:216.90px;top:1489.17px;font-size:9.4px;line-height:11.28px;color:#616161;white-space:nowrap;">Nov 2025</div>
<div style="position:absolute;right:1219.40px;top:1489.17px;font-size:9.4px;line-height:11.28px;color:#616161;white-space:nowrap;">26</div>
<div style="position:absolute;left:335.40px;top:1479.00px;width:361.80px;height:31.40px;background:#f6f7fc;border-radius:0px;border-radius:0 4px 4px 0;"></div>
<div style="position:absolute;left:335.20px;top:1479.00px;width:90.85px;height:31.40px;background:#eef0fc;border-radius:4px;"></div>
<div style="position:absolute;left:80.62px;width:600px;text-align:center;top:1489.17px;font-size:9.4px;line-height:11.28px;color:#4a5068;white-space:nowrap;">11.53%</div>
<div style="position:absolute;left:171.07px;width:600px;text-align:center;top:1489.17px;font-size:9.4px;line-height:11.28px;color:#4a5068;white-space:nowrap;">7.69%</div>
<div style="position:absolute;left:261.52px;width:600px;text-align:center;top:1489.17px;font-size:9.4px;line-height:11.28px;color:#4a5068;white-space:nowrap;">3.84%</div>
<div style="position:absolute;left:606.55px;top:1479.00px;width:90.85px;height:31.40px;background:#eef0fc;border-radius:4px;"></div>
<div style="position:absolute;left:351.98px;width:600px;text-align:center;top:1489.17px;font-size:9.4px;line-height:11.28px;color:#4a5068;white-space:nowrap;">11.53%</div>
<div style="position:absolute;left:216.90px;top:1519.97px;font-size:9.4px;line-height:11.28px;color:#616161;white-space:nowrap;">Dec 2025</div>
<div style="position:absolute;right:1219.40px;top:1519.97px;font-size:9.4px;line-height:11.28px;color:#616161;white-space:nowrap;">27</div>
<div style="position:absolute;left:335.40px;top:1509.80px;width:271.35px;height:31.40px;background:#f6f7fc;border-radius:0px;border-radius:0 4px 4px 0;"></div>
<div style="position:absolute;left:80.62px;width:600px;text-align:center;top:1519.97px;font-size:9.4px;line-height:11.28px;color:#4a5068;white-space:nowrap;">3.7%</div>
<div style="position:absolute;left:171.07px;width:600px;text-align:center;top:1519.97px;font-size:9.4px;line-height:11.28px;color:#4a5068;white-space:nowrap;">7.4%</div>
<div style="position:absolute;left:516.10px;top:1509.80px;width:90.85px;height:31.40px;background:#eceffc;border-radius:4px;"></div>
<div style="position:absolute;left:261.52px;width:600px;text-align:center;top:1519.97px;font-size:9.4px;line-height:11.28px;color:#4a5068;white-space:nowrap;">14.81%</div>
<div style="position:absolute;left:216.90px;top:1550.77px;font-size:9.4px;line-height:11.28px;color:#616161;white-space:nowrap;">Jan 2026</div>
<div style="position:absolute;right:1219.40px;top:1550.77px;font-size:9.4px;line-height:11.28px;color:#616161;white-space:nowrap;">20</div>
<div style="position:absolute;left:335.40px;top:1540.60px;width:180.90px;height:31.40px;background:#f6f7fc;border-radius:0px;border-radius:0 4px 4px 0;"></div>
<div style="position:absolute;left:80.62px;width:600px;text-align:center;top:1550.77px;font-size:9.4px;line-height:11.28px;color:#4a5068;white-space:nowrap;">5%</div>
<div style="position:absolute;left:171.07px;width:600px;text-align:center;top:1550.77px;font-size:9.4px;line-height:11.28px;color:#4a5068;white-space:nowrap;">0%</div>
<div style="position:absolute;left:216.90px;top:1581.57px;font-size:9.4px;line-height:11.28px;color:#616161;white-space:nowrap;">Feb 2026</div>
<div style="position:absolute;right:1219.40px;top:1581.57px;font-size:9.4px;line-height:11.28px;color:#616161;white-space:nowrap;">10</div>
<div style="position:absolute;left:335.40px;top:1571.40px;width:90.45px;height:31.40px;background:#f6f7fc;border-radius:0px;border-radius:0 4px 4px 0;"></div>
<div style="position:absolute;left:80.62px;width:600px;text-align:center;top:1581.57px;font-size:9.4px;line-height:11.28px;color:#4a5068;white-space:nowrap;">0%</div>
<div class="ttl" style="position:absolute;left:1098.00px;top:1321.32px;font-size:11.26px;line-height:13.51px;color:#303030;-webkit-text-stroke:0.34px #303030;white-space:nowrap;">Sessions by landing page</div>
<div style="position:absolute;left:1090px;top:1338px;width:400px;height:264px;overflow:hidden">
<div style="position:absolute;left:13.10px;top:7.58px;font-size:11.0px;line-height:13.2px;color:#303030;white-space:nowrap">Homepage · /</div>
<div style="position:absolute;left:327.50px;top:7.58px;font-size:11.0px;line-height:13.2px;color:#303030;-webkit-text-stroke:0.33px #303030;white-space:nowrap">1,326</div>
<div style="position:absolute;left:373.60px;top:13.60px;width:8.60px;height:1.00px;background:#8a8a8a;border-radius:0px"></div>
<div style="position:absolute;left:7.60px;top:25.60px;width:390.70px;height:21.80px;background:#f7f7f7;border-radius:7px"></div>
<div style="position:absolute;left:13.10px;top:29.98px;font-size:11.0px;line-height:13.2px;color:#303030;white-space:nowrap">Password · /password</div>
<div style="position:absolute;left:337.00px;top:29.98px;font-size:11.0px;line-height:13.2px;color:#303030;-webkit-text-stroke:0.33px #303030;white-space:nowrap">132</div>
<div style="position:absolute;left:373.60px;top:36.00px;width:8.60px;height:1.00px;background:#8a8a8a;border-radius:0px"></div>
<div style="position:absolute;left:13.10px;top:52.38px;font-size:11.0px;line-height:13.2px;color:#303030;white-space:nowrap">Product · /products/effet-injection-extrem-brightening-body-up-</div>
<div style="position:absolute;left:13.10px;top:68.18px;font-size:11.0px;line-height:13.2px;color:#303030;white-space:nowrap">to-5-shade-6in1-set-yellow-soap-for-skin-brightening-and-...</div>
<div style="position:absolute;left:343.50px;top:60.18px;font-size:11.0px;line-height:13.2px;color:#303030;-webkit-text-stroke:0.33px #303030;white-space:nowrap">60</div>
<div style="position:absolute;left:373.60px;top:66.20px;width:8.60px;height:1.00px;background:#8a8a8a;border-radius:0px"></div>
<div style="position:absolute;left:7.60px;top:86.00px;width:390.70px;height:21.80px;background:#f7f7f7;border-radius:7px"></div>
<div style="position:absolute;left:13.10px;top:90.38px;font-size:11.0px;line-height:13.2px;color:#303030;white-space:nowrap">Collection · /collections/shop-all</div>
<div style="position:absolute;left:343.50px;top:90.38px;font-size:11.0px;line-height:13.2px;color:#303030;-webkit-text-stroke:0.33px #303030;white-space:nowrap">50</div>
<div style="position:absolute;left:373.60px;top:96.40px;width:8.60px;height:1.00px;background:#8a8a8a;border-radius:0px"></div>
<div style="position:absolute;left:13.10px;top:112.78px;font-size:11.0px;line-height:13.2px;color:#303030;white-space:nowrap">Product · /products/5d-ultra-brightening-and-polishing-vitess-</div>
<div style="position:absolute;left:13.10px;top:128.58px;font-size:11.0px;line-height:13.2px;color:#303030;white-space:nowrap">8-up-to-5-to-6-shade-body-soap-for-strong-skin</div>
<div style="position:absolute;left:343.50px;top:120.58px;font-size:11.0px;line-height:13.2px;color:#303030;-webkit-text-stroke:0.33px #303030;white-space:nowrap">38</div>
<div style="position:absolute;left:373.60px;top:126.60px;width:8.60px;height:1.00px;background:#8a8a8a;border-radius:0px"></div>
<div style="position:absolute;left:7.60px;top:146.40px;width:390.70px;height:37.40px;background:#f7f7f7;border-radius:7px"></div>
<div style="position:absolute;left:13.10px;top:150.78px;font-size:11.0px;line-height:13.2px;color:#303030;white-space:nowrap">Product · /products/skin-and-face-black-spot-and-white-</div>
<div style="position:absolute;left:13.10px;top:166.58px;font-size:11.0px;line-height:13.2px;color:#303030;white-space:nowrap">patches-remover-africa-black-soap</div>
<div style="position:absolute;left:343.50px;top:158.58px;font-size:11.0px;line-height:13.2px;color:#303030;-webkit-text-stroke:0.33px #303030;white-space:nowrap">34</div>
<div style="position:absolute;left:373.60px;top:164.60px;width:8.60px;height:1.00px;background:#8a8a8a;border-radius:0px"></div>
<div style="position:absolute;left:13.10px;top:188.78px;font-size:11.0px;line-height:13.2px;color:#303030;white-space:nowrap">Product · /products/5d-molato-promax-3shade-extra-</div>
<div style="position:absolute;left:13.10px;top:204.58px;font-size:11.0px;line-height:13.2px;color:#303030;white-space:nowrap">brightening-body-soap-500g</div>
<div style="position:absolute;left:343.50px;top:196.58px;font-size:11.0px;line-height:13.2px;color:#303030;-webkit-text-stroke:0.33px #303030;white-space:nowrap">27</div>
<div style="position:absolute;left:373.60px;top:202.60px;width:8.60px;height:1.00px;background:#8a8a8a;border-radius:0px"></div>
<div style="position:absolute;left:7.60px;top:222.40px;width:390.70px;height:21.80px;background:#f7f7f7;border-radius:7px"></div>
<div style="position:absolute;left:13.10px;top:226.78px;font-size:11.0px;line-height:13.2px;color:#303030;white-space:nowrap">Cart · /cart</div>
<div style="position:absolute;left:343.50px;top:226.78px;font-size:11.0px;line-height:13.2px;color:#303030;-webkit-text-stroke:0.33px #303030;white-space:nowrap">26</div>
<div style="position:absolute;left:373.60px;top:232.80px;width:8.60px;height:1.00px;background:#8a8a8a;border-radius:0px"></div>
<div style="position:absolute;left:13.10px;top:249.18px;font-size:11.0px;line-height:13.2px;color:#303030;white-space:nowrap">Product · /products/emergency-fast-action-extra-brightening-</div>
<div style="position:absolute;left:13.10px;top:264.98px;font-size:11.0px;line-height:13.2px;color:#303030;white-space:nowrap">lightening-body-lotion</div>
<div style="position:absolute;left:343.50px;top:256.98px;font-size:11.0px;line-height:13.2px;color:#303030;-webkit-text-stroke:0.33px #303030;white-space:nowrap">23</div>
<div style="position:absolute;left:373.60px;top:263.00px;width:8.60px;height:1.00px;background:#8a8a8a;border-radius:0px"></div>
</div>
<div style="position:absolute;left:1492.60px;top:1354.80px;width:4.20px;height:190.80px;background:#a8a8a8;border-radius:2.1px;"></div>
<div class="ttl" style="position:absolute;left:216.30px;top:1643.27px;font-size:11.34px;line-height:13.61px;color:#303030;-webkit-text-stroke:0.34px #303030;white-space:nowrap;">Sessions by social referrer</div>
<div style="position:absolute;left:216.30px;top:1664.75px;font-size:9.6px;line-height:11.52px;color:#616161;white-space:nowrap;">tiktok</div>
<div style="position:absolute;left:216.30px;top:1678.20px;width:388.50px;height:24.20px;background:#16a8ee;border-radius:2.5px;"></div>
<div style="position:absolute;left:615.30px;top:1684.72px;font-size:9.0px;line-height:10.8px;color:#616161;white-space:nowrap;">9</div>
<div style="position:absolute;left:216.30px;top:1705.60px;width:1.00px;height:23.20px;background:#d2d3dc;border-radius:0px;"></div>
<div style="position:absolute;left:224.70px;top:1711.90px;font-size:9.2px;line-height:11.04px;color:#616161;white-space:nowrap;">0</div>
<div style="position:absolute;left:216.30px;top:1744.35px;font-size:9.6px;line-height:11.52px;color:#616161;white-space:nowrap;">facebook</div>
<div style="position:absolute;left:216.30px;top:1757.80px;width:172.67px;height:24.20px;background:#16a8ee;border-radius:2.5px;"></div>
<div style="position:absolute;left:399.47px;top:1764.32px;font-size:9.0px;line-height:10.8px;color:#616161;white-space:nowrap;">4</div>
<div style="position:absolute;left:216.30px;top:1785.20px;width:1.00px;height:23.20px;background:#d2d3dc;border-radius:0px;"></div>
<div style="position:absolute;left:224.70px;top:1791.50px;font-size:9.2px;line-height:11.04px;color:#616161;white-space:nowrap;">0</div>
<div style="position:absolute;left:216.30px;top:1823.95px;font-size:9.6px;line-height:11.52px;color:#616161;white-space:nowrap;">instagram</div>
<div style="position:absolute;left:216.30px;top:1837.40px;width:43.17px;height:24.20px;background:#16a8ee;border-radius:2.5px;"></div>
<div style="position:absolute;left:269.97px;top:1843.92px;font-size:9.0px;line-height:10.8px;color:#616161;white-space:nowrap;">1</div>
<div style="position:absolute;left:216.30px;top:1864.80px;width:1.00px;height:23.20px;background:#d2d3dc;border-radius:0px;"></div>
<div style="position:absolute;left:224.70px;top:1871.10px;font-size:9.2px;line-height:11.04px;color:#616161;white-space:nowrap;">0</div>
<div class="ttl" style="position:absolute;left:657.60px;top:1643.40px;font-size:11.28px;line-height:13.54px;color:#303030;-webkit-text-stroke:0.34px #303030;white-space:nowrap;">Total sales by referrer</div>
<div style="position:absolute;left:657.60px;top:1664.65px;font-size:9.6px;line-height:11.52px;color:#616161;white-space:nowrap;">None · None</div>
<div style="position:absolute;left:657.60px;top:1678.50px;width:313.50px;height:14.00px;background:#16a8ee;border-radius:2.5px;"></div>
<div style="position:absolute;left:979.10px;top:1679.85px;font-size:9.6px;line-height:11.52px;color:#616161;white-space:nowrap;">$7.1K</div>
<div style="position:absolute;left:1011.10px;top:1684.80px;width:9.00px;height:1.00px;background:#8a8a8a;border-radius:0px;"></div>
<div style="position:absolute;left:657.90px;top:1694.80px;width:1.00px;height:13.50px;background:#d2d3dc;border-radius:0px;"></div>
<div style="position:absolute;left:666.20px;top:1696.25px;font-size:9.6px;line-height:11.52px;color:#616161;white-space:nowrap;">$0</div>
<div style="position:absolute;left:657.60px;top:1724.30px;font-size:9.6px;line-height:11.52px;color:#616161;white-space:nowrap;">None · android</div>
<div style="position:absolute;left:657.60px;top:1738.15px;width:43.23px;height:14.00px;background:#16a8ee;border-radius:2.5px;"></div>
<div style="position:absolute;left:708.83px;top:1739.50px;font-size:9.6px;line-height:11.52px;color:#616161;white-space:nowrap;">$979</div>
<div style="position:absolute;left:738.33px;top:1744.45px;width:9.00px;height:1.00px;background:#8a8a8a;border-radius:0px;"></div>
<div style="position:absolute;left:657.90px;top:1754.45px;width:1.00px;height:13.50px;background:#d2d3dc;border-radius:0px;"></div>
<div style="position:absolute;left:666.20px;top:1755.90px;font-size:9.6px;line-height:11.52px;color:#616161;white-space:nowrap;">$0</div>
<div style="position:absolute;left:657.60px;top:1783.95px;font-size:9.6px;line-height:11.52px;color:#616161;white-space:nowrap;">None · jbeautyskin</div>
<div style="position:absolute;left:657.60px;top:1797.80px;width:32.19px;height:14.00px;background:#16a8ee;border-radius:2.5px;"></div>
<div style="position:absolute;left:697.79px;top:1799.15px;font-size:9.6px;line-height:11.52px;color:#616161;white-space:nowrap;">$729</div>
<div style="position:absolute;left:727.29px;top:1804.10px;width:9.00px;height:1.00px;background:#8a8a8a;border-radius:0px;"></div>
<div style="position:absolute;left:657.90px;top:1814.10px;width:1.00px;height:13.50px;background:#d2d3dc;border-radius:0px;"></div>
<div style="position:absolute;left:666.20px;top:1815.55px;font-size:9.6px;line-height:11.52px;color:#616161;white-space:nowrap;">$0</div>
<div style="position:absolute;left:657.60px;top:1843.60px;font-size:9.6px;line-height:11.52px;color:#616161;white-space:nowrap;">None · shopify</div>
<div style="position:absolute;left:657.60px;top:1857.45px;width:22.12px;height:14.00px;background:#16a8ee;border-radius:2.5px;"></div>
<div style="position:absolute;left:687.72px;top:1858.80px;font-size:9.6px;line-height:11.52px;color:#616161;white-space:nowrap;">$501</div>
<div style="position:absolute;left:717.22px;top:1863.75px;width:9.00px;height:1.00px;background:#8a8a8a;border-radius:0px;"></div>
<div style="position:absolute;left:657.90px;top:1873.75px;width:1.00px;height:13.50px;background:#d2d3dc;border-radius:0px;"></div>
<div style="position:absolute;left:666.20px;top:1875.20px;font-size:9.6px;line-height:11.52px;color:#616161;white-space:nowrap;">$0</div>
<div class="ttl" style="position:absolute;left:1098.00px;top:1643.51px;font-size:11.27px;line-height:13.52px;color:#303030;-webkit-text-stroke:0.34px #303030;white-space:nowrap;">Performance by referring channel</div>
<div style="position:absolute;left:1115.20px;top:1668.85px;font-size:9.6px;line-height:11.52px;color:#616161;white-space:nowrap;">direct</div>
<div style="position:absolute;left:1115.20px;top:1682.50px;width:309.80px;height:6.20px;background:#16a8ee;border-radius:3px;"></div>
<div style="position:absolute;left:1433.20px;top:1679.95px;font-size:9.6px;line-height:11.52px;color:#616161;white-space:nowrap;">$8.3K</div>
<div style="position:absolute;left:1115.20px;top:1707.15px;font-size:9.6px;line-height:11.52px;color:#616161;white-space:nowrap;">google</div>
<div style="position:absolute;left:1115.20px;top:1720.40px;width:2.00px;height:6.20px;background:#6d3be6;border-radius:0.5px;"></div>
<div style="position:absolute;left:1125.80px;top:1717.95px;font-size:9.6px;line-height:11.52px;color:#616161;white-space:nowrap;">$55</div>
<div style="position:absolute;left:1115.20px;top:1745.45px;font-size:9.6px;line-height:11.52px;color:#616161;white-space:nowrap;">shopify</div>
<div style="position:absolute;left:1115.20px;top:1758.70px;width:18.20px;height:6.20px;background:#6d3be6;border-radius:1.5px;"></div>
<div style="position:absolute;left:1142.00px;top:1756.25px;font-size:9.6px;line-height:11.52px;color:#616161;white-space:nowrap;">$501</div>
<div style="position:absolute;left:1115.20px;top:1783.75px;font-size:9.6px;line-height:11.52px;color:#616161;white-space:nowrap;">wl</div>
<div style="position:absolute;left:1115.20px;top:1797.00px;width:11.40px;height:6.20px;background:#6d3be6;border-radius:1.5px;"></div>
<div style="position:absolute;left:1135.20px;top:1794.55px;font-size:9.6px;line-height:11.52px;color:#616161;white-space:nowrap;">$311</div>
<div style="position:absolute;left:1115.20px;top:1822.05px;font-size:9.6px;line-height:11.52px;color:#616161;white-space:nowrap;">None</div>
<div style="position:absolute;left:1115.20px;top:1835.30px;width:2.00px;height:6.20px;background:#5b7fe8;border-radius:0.5px;"></div>
<div style="position:absolute;left:1125.80px;top:1832.85px;font-size:9.6px;line-height:11.52px;color:#616161;white-space:nowrap;">$58.64</div>
<div style="position:absolute;left:1235.20px;top:1873.07px;font-size:9.4px;line-height:11.28px;color:#616161;white-space:nowrap;">Direct</div>
<div style="position:absolute;left:1288.60px;top:1873.07px;font-size:9.4px;line-height:11.28px;color:#616161;white-space:nowrap;">Organic</div>
<div style="position:absolute;left:1349.70px;top:1873.07px;font-size:9.4px;line-height:11.28px;color:#616161;white-space:nowrap;">None</div>
<div class="ttl" style="position:absolute;left:216.30px;top:1929.29px;font-size:11.3px;line-height:13.56px;color:#303030;-webkit-text-stroke:0.34px #303030;white-space:nowrap;">Sessions by referrer</div>
<div style="position:absolute;left:216.30px;top:1951.27px;font-size:9.25px;line-height:11.1px;color:#616161;white-space:nowrap;">Direct · None · Council Bluffs</div>
<div style="position:absolute;left:216.30px;top:1965.30px;width:373.60px;height:7.60px;background:#16a8ee;border-radius:2.5px;"></div>
<div style="position:absolute;left:598.50px;top:1964.00px;font-size:9.2px;line-height:11.04px;color:#616161;white-space:nowrap;">347</div>
<div style="position:absolute;left:216.50px;top:1975.10px;width:1.00px;height:9.60px;background:#d2d3dc;border-radius:0px;"></div>
<div style="position:absolute;left:224.70px;top:1974.20px;font-size:9.2px;line-height:11.04px;color:#616161;white-space:nowrap;">0</div>
<div style="position:absolute;left:216.30px;top:1998.92px;font-size:9.25px;line-height:11.1px;color:#616161;white-space:nowrap;">Direct · None · None</div>
<div style="position:absolute;left:216.30px;top:2012.95px;width:171.19px;height:7.60px;background:#16a8ee;border-radius:2.5px;"></div>
<div style="position:absolute;left:396.09px;top:2011.65px;font-size:9.2px;line-height:11.04px;color:#616161;white-space:nowrap;">159</div>
<div style="position:absolute;left:216.50px;top:2022.75px;width:1.00px;height:9.60px;background:#d2d3dc;border-radius:0px;"></div>
<div style="position:absolute;left:224.70px;top:2021.85px;font-size:9.2px;line-height:11.04px;color:#616161;white-space:nowrap;">0</div>
<div style="position:absolute;left:216.30px;top:2046.57px;font-size:9.25px;line-height:11.1px;color:#616161;white-space:nowrap;">Direct · None · Minneapolis</div>
<div style="position:absolute;left:216.30px;top:2060.60px;width:54.91px;height:7.60px;background:#16a8ee;border-radius:2.5px;"></div>
<div style="position:absolute;left:279.81px;top:2059.30px;font-size:9.2px;line-height:11.04px;color:#616161;white-space:nowrap;">51</div>
<div style="position:absolute;left:216.50px;top:2070.40px;width:1.00px;height:9.60px;background:#d2d3dc;border-radius:0px;"></div>
<div style="position:absolute;left:224.70px;top:2069.50px;font-size:9.2px;line-height:11.04px;color:#616161;white-space:nowrap;">0</div>
<div style="position:absolute;left:216.30px;top:2094.22px;font-size:9.25px;line-height:11.1px;color:#616161;white-space:nowrap;">Direct · None · Columbus</div>
<div style="position:absolute;left:216.30px;top:2108.25px;width:47.37px;height:7.60px;background:#16a8ee;border-radius:2.5px;"></div>
<div style="position:absolute;left:272.27px;top:2106.95px;font-size:9.2px;line-height:11.04px;color:#616161;white-space:nowrap;">44</div>
<div style="position:absolute;left:216.50px;top:2118.05px;width:1.00px;height:9.60px;background:#d2d3dc;border-radius:0px;"></div>
<div style="position:absolute;left:224.70px;top:2117.15px;font-size:9.2px;line-height:11.04px;color:#616161;white-space:nowrap;">0</div>
<div style="position:absolute;left:216.30px;top:2141.87px;font-size:9.25px;line-height:11.1px;color:#616161;white-space:nowrap;">Search · google · Shakopee</div>
<div style="position:absolute;left:216.30px;top:2155.90px;width:46.30px;height:7.60px;background:#16a8ee;border-radius:2.5px;"></div>
<div style="position:absolute;left:271.20px;top:2154.60px;font-size:9.2px;line-height:11.04px;color:#616161;white-space:nowrap;">43</div>
<div style="position:absolute;left:216.50px;top:2165.70px;width:1.00px;height:9.60px;background:#d2d3dc;border-radius:0px;"></div>
<div style="position:absolute;left:224.70px;top:2164.80px;font-size:9.2px;line-height:11.04px;color:#616161;white-space:nowrap;">0</div>
<div class="ttl" style="position:absolute;left:657.60px;top:1929.56px;font-size:11.19px;line-height:13.43px;color:#303030;-webkit-text-stroke:0.34px #303030;white-space:nowrap;">Total sales by POS location</div>
<div style="position:absolute;left:558.30px;width:600px;text-align:center;top:2055.28px;font-size:11.0px;line-height:13.2px;color:#616161;white-space:nowrap;">No data for this date range</div>
<div class="ttl" style="position:absolute;left:1098.00px;top:1929.33px;font-size:11.4px;line-height:13.68px;color:#303030;-webkit-text-stroke:0.34px #303030;white-space:nowrap;">Products by sell-through rate</div>
<div style="position:absolute;left:1097.60px;top:1951.27px;font-size:9.25px;line-height:11.1px;color:#616161;white-space:nowrap;">1pc effet injection whitening face soap anti-spot. · Default Title · None</div>
<div style="position:absolute;left:1097.60px;top:1965.00px;width:318.20px;height:7.80px;background:#16a8ee;border-radius:2.5px;"></div>
<div style="position:absolute;left:1424.10px;top:1963.63px;font-size:9.3px;line-height:11.16px;color:#616161;white-space:nowrap;">7%</div>
<div style="position:absolute;left:1445.20px;top:1968.20px;width:9.00px;height:1.00px;background:#8a8a8a;border-radius:0px;"></div>
<div style="position:absolute;left:1097.90px;top:1975.10px;width:1.00px;height:9.60px;background:#d2d3dc;border-radius:0px;"></div>
<div style="position:absolute;left:1106.20px;top:1974.13px;font-size:9.3px;line-height:11.16px;color:#616161;white-space:nowrap;">0%</div>
<div style="position:absolute;left:1097.60px;top:1998.97px;font-size:9.25px;line-height:11.1px;color:#616161;white-space:nowrap;">Dolly MultiCollagen Peptides supplement · Default Title · None</div>
<div style="position:absolute;left:1097.60px;top:2012.70px;width:227.20px;height:7.80px;background:#16a8ee;border-radius:2.5px;"></div>
<div style="position:absolute;left:1333.10px;top:2011.33px;font-size:9.3px;line-height:11.16px;color:#616161;white-space:nowrap;">5%</div>
<div style="position:absolute;left:1354.20px;top:2015.90px;width:9.00px;height:1.00px;background:#8a8a8a;border-radius:0px;"></div>
<div style="position:absolute;left:1097.90px;top:2022.80px;width:1.00px;height:9.60px;background:#d2d3dc;border-radius:0px;"></div>
<div style="position:absolute;left:1106.20px;top:2021.83px;font-size:9.3px;line-height:11.16px;color:#616161;white-space:nowrap;">0%</div>
<div style="position:absolute;left:1097.60px;top:2046.66px;font-size:9.25px;line-height:11.1px;color:#616161;white-space:nowrap;">Dame Caviar Luxury whitening set. · Default Title · None</div>
<div style="position:absolute;left:1097.60px;top:2060.40px;width:227.20px;height:7.80px;background:#16a8ee;border-radius:2.5px;"></div>
<div style="position:absolute;left:1333.10px;top:2059.03px;font-size:9.3px;line-height:11.16px;color:#616161;white-space:nowrap;">5%</div>
<div style="position:absolute;left:1354.20px;top:2063.60px;width:9.00px;height:1.00px;background:#8a8a8a;border-radius:0px;"></div>
<div style="position:absolute;left:1097.90px;top:2070.50px;width:1.00px;height:9.60px;background:#d2d3dc;border-radius:0px;"></div>
<div style="position:absolute;left:1106.20px;top:2069.53px;font-size:9.3px;line-height:11.16px;color:#616161;white-space:nowrap;">0%</div>
<div style="position:absolute;left:1097.60px;top:2094.37px;font-size:9.25px;line-height:11.1px;color:#616161;white-space:nowrap;">Phyto Colly Glutathione Brighten Skin 5000mg Anti-Aging Potent Antioxidant NEW · Default Titl...</div>
<div style="position:absolute;left:1097.60px;top:2108.10px;width:227.20px;height:7.80px;background:#16a8ee;border-radius:2.5px;"></div>
<div style="position:absolute;left:1333.10px;top:2106.73px;font-size:9.3px;line-height:11.16px;color:#616161;white-space:nowrap;">5%</div>
<div style="position:absolute;left:1354.20px;top:2111.30px;width:9.00px;height:1.00px;background:#8a8a8a;border-radius:0px;"></div>
<div style="position:absolute;left:1097.90px;top:2118.20px;width:1.00px;height:9.60px;background:#d2d3dc;border-radius:0px;"></div>
<div style="position:absolute;left:1106.20px;top:2117.23px;font-size:9.3px;line-height:11.16px;color:#616161;white-space:nowrap;">0%</div>
<div style="position:absolute;left:1097.60px;top:2142.07px;font-size:9.25px;line-height:11.1px;color:#616161;white-space:nowrap;">Extra bleaching, whitening and brightening Japonaise body and facial oil. Super effective · Def...</div>
<div style="position:absolute;left:1097.60px;top:2155.80px;width:204.00px;height:7.80px;background:#16a8ee;border-radius:2.5px;"></div>
<div style="position:absolute;left:1309.90px;top:2154.43px;font-size:9.3px;line-height:11.16px;color:#616161;white-space:nowrap;">4.5%</div>
<div style="position:absolute;left:1339.00px;top:2159.00px;width:9.00px;height:1.00px;background:#8a8a8a;border-radius:0px;"></div>
<div style="position:absolute;left:1097.90px;top:2165.90px;width:1.00px;height:9.60px;background:#d2d3dc;border-radius:0px;"></div>
<div style="position:absolute;left:1106.20px;top:2164.93px;font-size:9.3px;line-height:11.16px;color:#616161;white-space:nowrap;">0%</div>
<div class="ttl" style="position:absolute;left:216.30px;top:2215.97px;font-size:11.18px;line-height:13.42px;color:#303030;-webkit-text-stroke:0.34px #303030;white-space:nowrap;">POS staff sales total</div>
<div style="position:absolute;left:117.40px;width:600px;text-align:center;top:2341.18px;font-size:11.0px;line-height:13.2px;color:#616161;white-space:nowrap;">No data for this date range</div>
<div style="position:absolute;left:558.00px;width:600px;text-align:center;top:2529.78px;font-size:10.2px;line-height:12.24px;color:#303030;white-space:nowrap;">Learn more about <span style="text-decoration:underline">analytics</span></div>
<svg width="1538" height="2560" viewBox="0 0 1538 2560"><path d="M17.4,16.7 L27.2,15.7 L27.2,31.9 L16.0,30.1 Z" fill="#fff"/>
<path d="M27.9,15.7 L29.6,16.1 L32.8,30.3 L27.9,31.8 Z" fill="#f2f2f2"/>
<path d="M20.0,17.2 C20.0,13.8 21.6,12.3 23.4,12.3 C25.2,12.3 26.4,13.8 26.5,16.6" stroke="#fff" stroke-width="1.5" fill="none"/>
<text x="22.3" y="27.8" font-family="Liberation Sans" font-weight="700" font-size="11.5" fill="#1a1a1a" text-anchor="middle">S</text>
<circle cx="522.9" cy="21.4" r="3.9" stroke="#e3e3e3" stroke-width="1.4" fill="none"/><path d="M525.8,24.3 L528.6,27.1" stroke="#e3e3e3" stroke-width="1.4" stroke-linecap="round"/>
<g transform="translate(1336,22.5)">
<rect x="-6" y="-6" width="12" height="12" rx="4.5" fill="#e3e3e3"/>
<rect x="-4.2" y="-1.2" width="8.4" height="3.2" rx="1.4" fill="#1a1a1a"/>
<rect x="-2.6" y="-0.4" width="1.6" height="1.6" fill="#e3e3e3"/><rect x="1" y="-0.4" width="1.6" height="1.6" fill="#e3e3e3"/>
<path d="M-2,3.6 L2,3.6" stroke="#1a1a1a" stroke-width="1"/>
<path d="M-4.5,-3.6 L4.5,-3.6" stroke="#1a1a1a" stroke-width="1"/>
</g>
<g transform="translate(1370.9,21.6) scale(0.82)">
<path d="M-4.6,3.2 L-4.6,-0.6 C-4.6,-3.6 -2.6,-5.4 0,-5.4 C2.6,-5.4 4.6,-3.6 4.6,-0.6 L4.6,3.2 L5.6,4.2 L-5.6,4.2 Z" stroke="#e3e3e3" stroke-width="1.3" fill="none" stroke-linejoin="round"/>
<path d="M-1.6,5.8 C-1.2,7.0 1.2,7.0 1.6,5.8" stroke="#e3e3e3" stroke-width="1.3" fill="none"/>
</g>
<circle cx="1377.0" cy="16.7" r="4.4" fill="#d92b3a" stroke="#1a1a1a" stroke-width="1"/>
<text x="1377.0" y="19.0" font-family="Liberation Sans" font-weight="700" font-size="6.4" fill="#fff" text-anchor="middle">5</text>
<path d="M92,343.8 L94.4,346.3 L92,348.8" stroke="#4a4a4a" stroke-width="1.1" fill="none"/>
<path d="M45.5,377.3 L47.9,379.8 L45.5,382.3" stroke="#4a4a4a" stroke-width="1.1" fill="none"/>
<path d="M18.7,64.5 L23.7,59.8 L28.7,64.5 L28.7,69.6 L25.3,69.6 L25.3,66.4 L22.099999999999998,66.4 L22.099999999999998,69.6 L18.7,69.6 Z" fill="#4a4a4a" stroke="#4a4a4a" stroke-width="0.8" stroke-linejoin="round"/>
<rect x="18.7" y="82.60000000000001" width="10" height="9.6" rx="2" fill="#b8b8b8"/><path d="M20.099999999999998,87.80000000000001 L22.5,87.80000000000001 L23.3,89.2 L24.099999999999998,89.2 L24.9,87.80000000000001 L27.3,87.80000000000001" stroke="#ebebeb" stroke-width="1" fill="none"/><rect x="20.099999999999998" y="84.0" width="7.2" height="3.4" fill="#ebebeb"/>
<path d="M18.7,110.7 L24.7,104.7 L28.7,104.7 L28.7,108.7 L22.7,114.7 Z" fill="#4a4a4a" stroke="#4a4a4a" stroke-width="1.2" stroke-linejoin="round"/><circle cx="26.3" cy="107.10000000000001" r="1" fill="#ebebeb"/>
<circle cx="23.7" cy="129.6" r="2.6" fill="#c0c0c0"/><path d="M18.7,137.0 C18.7,133.0 21.2,132.6 23.7,132.6 C26.2,132.6 28.7,133.0 28.7,137.0 Z" fill="#c0c0c0"/>
<path d="M28.299999999999997,155.1 A4.7,4.7 0 1 0 24.599999999999998,158.79999999999998" stroke="#4a4a4a" stroke-width="1.9" fill="none"/><path d="M25.3,154.0 A1.8,1.8 0 1 0 23.5,155.79999999999998" stroke="#4a4a4a" stroke-width="1.6" fill="none"/><path d="M23.9,154.39999999999998 L29.1,156.2 L26.9,157.39999999999998 L25.7,159.6 Z" fill="#4a4a4a" stroke="#4a4a4a" stroke-width="0.8" stroke-linejoin="round"/>
<polygon points="23.70,171.20 25.31,172.62 27.45,172.75 27.58,174.89 29.00,176.50 27.58,178.11 27.45,180.25 25.31,180.38 23.70,181.80 22.09,180.38 19.95,180.25 19.82,178.11 18.40,176.50 19.82,174.89 19.95,172.75 22.09,172.62" fill="#4a4a4a" stroke="#4a4a4a" stroke-width="0.6" stroke-linejoin="round"/><path d="M21.9,178.3 L25.5,174.7" stroke="#ebebeb" stroke-width="0.9"/><circle cx="22.2" cy="175.0" r="0.7" fill="#ebebeb"/><circle cx="25.2" cy="178.0" r="0.7" fill="#ebebeb"/>
<rect x="18.7" y="193.9" width="10" height="7.6" rx="1.6" fill="#4a4a4a"/><rect x="20.099999999999998" y="195.3" width="7.2" height="4.6" fill="#ebebeb"/><path d="M20.099999999999998,199.9 L22.7,197.3 L24.7,198.9 L27.3,196.3 L27.3,199.9 Z" fill="#4a4a4a"/><rect x="18.7" y="202.5" width="10" height="1.4" rx="0.7" fill="#4a4a4a"/>
<circle cx="23.099999999999998" cy="221.2" r="5.0" fill="#4a4a4a"/><path d="M20.099999999999998,218.0 C21.5,219.79999999999998 22.099999999999998,221.79999999999998 23.3,222.6 M24.3,216.6 C23.9,218.2 24.9,219.2 26.099999999999998,219.6" stroke="#ebebeb" stroke-width="1.1" fill="none"/><circle cx="27.099999999999998" cy="223.0" r="3.4" fill="#ebebeb"/><text x="27.2" y="226.1" font-size="8.4" font-weight="700" fill="#4a4a4a" text-anchor="middle" font-family="Liberation Sans">$</text>
<path d="M18.7,241.7 L23.7,238.5 L28.7,241.7 Z" fill="#4a4a4a" stroke="#4a4a4a" stroke-width="0.8" stroke-linejoin="round"/><rect x="18.7" y="246.7" width="10" height="1.8" fill="#4a4a4a"/><rect x="19.50" y="242.3" width="1.5" height="4.4" fill="#4a4a4a"/><rect x="21.80" y="242.3" width="1.5" height="4.4" fill="#4a4a4a"/><rect x="24.10" y="242.3" width="1.5" height="4.4" fill="#4a4a4a"/><rect x="26.40" y="242.3" width="1.5" height="4.4" fill="#4a4a4a"/>
<rect x="18.7" y="265.29999999999995" width="2.4" height="5.2" rx="1.2" fill="#303030"/><rect x="21.9" y="260.9" width="2.4" height="9.6" rx="1.2" fill="#303030"/><rect x="25.099999999999998" y="263.09999999999997" width="2.8" height="7.4" rx="1.3" stroke="#303030" stroke-width="1.2" fill="none"/>
<polygon points="25.10,725.48 26.53,727.87 28.92,729.30 27.56,731.74 27.52,734.52 24.74,734.56 22.30,735.92 20.87,733.53 18.48,732.10 19.84,729.66 19.88,726.88 22.66,726.84" fill="#4a4a4a" stroke="#4a4a4a" stroke-width="1.2" stroke-linejoin="round"/><circle cx="23.7" cy="730.7" r="1.6" fill="#ebebeb"/>
<rect x="209.5" y="67.60000000000001" width="2.4" height="5.2" rx="1.2" fill="#303030"/><rect x="212.7" y="63.2" width="2.4" height="9.6" rx="1.2" fill="#303030"/><rect x="215.9" y="65.4" width="2.8" height="7.4" rx="1.3" stroke="#303030" stroke-width="1.2" fill="none"/>
<g stroke="#616161" stroke-width="1.1" fill="none" stroke-linecap="round" stroke-linejoin="round">
<path d="M1340.3,67.2 L1340.3,65.8 C1340.3,64.8 1341,64.2 1342,64.2 L1349.4,64.2 M1347.6,62.4 L1349.4,64.2 L1347.6,66"/>
<path d="M1349.6,69 L1349.6,70.4 C1349.6,71.4 1348.9,72 1347.9,72 L1340.5,72 M1342.3,73.8 L1340.5,72 L1342.3,70.2"/>
<path d="M1368.6,72.6 L1377.4,63.8 M1373.8,63.6 L1377.6,63.6 L1377.6,67.4 M1368.4,69 L1368.4,72.8 L1372.2,72.8"/>
<path d="M1397.2,73.2 L1397.6,70.4 L1403.8,64.2 C1404.6,63.4 1405.8,63.4 1406.6,64.2 C1407.4,65 1407.4,66.2 1406.6,67 L1400.4,73.2 Z"/>
</g>
<g stroke="#4a4a4a" stroke-width="1.1" fill="none" stroke-linecap="round" stroke-linejoin="round">
<rect x="211.6" y="95.6" width="8.8" height="9" rx="2"/><path d="M211.6,98.8 L220.4,98.8"/>
<path d="M274.2,98.7 L277.8,102.2 L281.4,98.7"/>
<path d="M313.4,99.4 L313.4,97.6 C313.4,96.4 312.6,95.6 311.4,95.6 L306.4,95.6 C305.2,95.6 304.4,96.4 304.4,97.6 L304.4,102.8 C304.4,104 305.2,104.6 306.4,104.6 L309,104.6"/><path d="M304.4,98.8 L313.4,98.8"/>
<path d="M310.8,103.6 L314.6,103.6 M313.4,102.4 L314.6,103.6 L313.4,104.8"/>
<path d="M410.2,98.7 L413.8,102.2 L417.4,98.7"/>
</g>
<g stroke="#303030" stroke-width="1.1" fill="none" stroke-linecap="round" stroke-linejoin="round"><path d="M446.2,97.6 L451.4,97.6 M449.8,96 L451.4,97.6 L449.8,99.2"/><path d="M451.4,103 L446.2,103 M447.8,101.4 L446.2,103 L447.8,104.6"/></g>
<path d="M445.9,170.7 L495.2,170.4 C496.8,170.2 497.2,160 498.8,158.6 L506.8,158.2" stroke="#2aa3df" stroke-width="1.1" fill="none" transform="translate(0.6,0.8)"/>
<path d="M776.4,170.2 L821.4,170 C823.8,169.8 824.6,157.8 826.4,157.8 C828.2,157.8 829,169.8 831.4,170 L838.4,170.2" stroke="#2aa3df" stroke-width="1.1" fill="none" transform="translate(0.6,0.8)"/>
<path d="M1107.4,170.2 L1155,169.8 C1158.6,169.4 1160.2,160.2 1163.4,158.6 L1168.4,157.8" stroke="#2aa3df" stroke-width="1.1" fill="none" transform="translate(0.6,0.8)"/>
<path d="M1437.4,170.2 L1487.2,169.8 C1489.2,169.4 1489.8,158.6 1491.8,158 L1498.6,157.8" stroke="#2aa3df" stroke-width="1.1" fill="none" transform="translate(0.6,0.8)"/>
<path d="M497,170.8 L507,170.8 M826.4,170.4 L838.4,170.4 M1160,170.2 L1168.4,170.2 M1490,170.2 L1498.6,170.2" stroke="#9fd3ef" stroke-width="0.9" stroke-dasharray="1.6 1.6" fill="none"/>
<path d="M253.6,263.20 L1057,263.20" stroke="#ececec" stroke-width="1" fill="none"/>
<path d="M253.6,320.90 L1057,320.90" stroke="#ececec" stroke-width="1" fill="none"/>
<path d="M253.6,378.40 L1057,378.40" stroke="#ececec" stroke-width="1" fill="none"/>
<path d="M718,437.2 L1057,437.2" stroke="#a4b6bf" stroke-width="1.2" stroke-dasharray="3.4 3.1" fill="none"/>
<path d="M253.60,437.20 C324.67,437.20 604.67,437.25 680.00,437.20 C755.33,437.15 699.20,437.10 705.60,436.90 C712.00,436.70 712.85,436.55 718.40,436.00 C723.95,435.45 730.37,434.13 738.90,433.60 C747.43,433.07 760.22,432.75 769.60,432.80 C778.98,432.85 786.67,433.58 795.20,433.90 C803.73,434.22 810.12,434.63 820.80,434.70 C831.48,434.77 848.62,434.50 859.30,434.30 C869.98,434.10 876.28,433.75 884.90,433.50 C893.52,433.25 904.82,433.55 911.00,432.80 C917.18,432.05 918.25,432.30 922.00,429.00 C925.75,425.70 930.30,419.50 933.50,413.00 C936.70,406.50 939.07,397.27 941.20,390.00 C943.33,382.73 944.17,377.53 946.30,369.40 C948.43,361.27 951.43,348.88 954.00,341.20 C956.57,333.52 958.72,328.20 961.70,323.30 C964.68,318.40 968.48,314.15 971.90,311.80 C975.32,309.45 977.50,309.72 982.20,309.20 C986.90,308.68 992.85,309.03 1000.10,308.70 C1007.35,308.37 1016.22,307.68 1025.70,307.20 C1035.18,306.72 1051.78,306.03 1057.00,305.80" stroke="#3a9fcb" stroke-width="1.5" fill="none"/>
<circle cx="540.5" cy="483.2" r="3" fill="#1c9ce0"/><circle cx="646.1" cy="483.2" r="3" fill="#8ec8ea"/>
<path d="M336.09,567.71 A62.6,62.6 0 1 1 329.11,567.98" stroke="#16a8ee" stroke-width="14.6" fill="none"/>
<path d="M330.20,567.88 A62.6,62.6 0 0 1 334.34,567.70" stroke="#6d3be6" stroke-width="14.6" fill="none"/>
<path d="M700,585.40 L1057,585.40" stroke="#ececec" stroke-width="1" fill="none"/>
<path d="M700,618.70 L1057,618.70" stroke="#ececec" stroke-width="1" fill="none"/>
<path d="M903.7,652 L1057,652" stroke="#a4b6bf" stroke-width="1.2" stroke-dasharray="3.4 3.1" fill="none"/>
<path d="M700.00,652.00 C730.00,652.00 847.17,652.07 880.00,652.00 C912.83,651.93 893.17,652.20 897.00,651.60 C900.83,651.00 901.18,650.15 903.00,648.40 C904.82,646.65 906.27,644.95 907.90,641.10 C909.53,637.25 911.18,629.75 912.80,625.30 C914.42,620.85 915.98,616.92 917.60,614.40 C919.22,611.88 920.68,611.17 922.50,610.20 C924.32,609.23 926.28,608.50 928.50,608.60 C930.72,608.70 933.57,609.53 935.80,610.80 C938.03,612.07 939.88,614.18 941.90,616.20 C943.92,618.22 945.88,621.28 947.90,622.90 C949.92,624.52 951.57,625.25 954.00,625.90 C956.43,626.55 959.87,626.45 962.50,626.80 C965.13,627.15 967.38,627.23 969.80,628.00 C972.22,628.77 974.58,630.47 977.00,631.40 C979.42,632.33 981.47,633.20 984.30,633.60 C987.13,634.00 991.17,634.27 994.00,633.80 C996.83,633.33 999.07,632.62 1001.30,630.80 C1003.53,628.98 1005.38,625.83 1007.40,622.90 C1009.42,619.97 1011.18,615.63 1013.40,613.20 C1015.62,610.77 1017.47,609.32 1020.70,608.30 C1023.93,607.28 1028.95,607.60 1032.80,607.10 C1036.65,606.60 1039.77,605.70 1043.80,605.30 C1047.83,604.90 1054.80,604.80 1057.00,604.70" stroke="#3a9fcb" stroke-width="1.5" fill="none"/>
<circle cx="761.3" cy="697.8" r="3" fill="#1c9ce0"/><circle cx="866.8" cy="697.8" r="3" fill="#8ec8ea"/>
<path d="M1493.7,559.2 L1496.7,554.6 L1499.7,559.2 Z M1493.7,701.4 L1496.7,706 L1499.7,701.4 Z" fill="#a8a8a8"/>
<path d="M253.5,800.00 L615.6,800.00" stroke="#ececec" stroke-width="1" fill="none"/>
<path d="M253.5,845.90 L615.6,845.90" stroke="#ececec" stroke-width="1" fill="none"/>
<path d="M253.5,891.40 L615.6,891.40" stroke="#ececec" stroke-width="1" fill="none"/>
<path d="M426.7,938 L615.6,938" stroke="#a4b6bf" stroke-width="1.2" stroke-dasharray="3.4 3.1" fill="none"/>
<path d="M253.50,938.00 C277.92,938.00 372.37,938.00 400.00,938.00 C427.63,938.00 414.98,938.20 419.30,938.00 C423.62,937.80 423.93,938.12 425.90,936.80 C427.87,935.48 429.00,933.32 431.10,930.10 C433.20,926.88 436.27,920.53 438.50,917.50 C440.73,914.47 442.52,913.08 444.50,911.90 C446.48,910.72 448.55,910.95 450.40,910.40 C452.25,909.85 453.87,910.38 455.60,908.60 C457.33,906.82 459.20,904.15 460.80,899.70 C462.40,895.25 463.85,888.57 465.20,881.90 C466.55,875.23 467.67,866.12 468.90,859.70 C470.13,853.28 471.23,847.60 472.60,843.40 C473.97,839.20 475.12,836.60 477.10,834.50 C479.08,832.40 481.78,831.17 484.50,830.80 C487.22,830.43 490.18,831.00 493.40,832.30 C496.62,833.60 500.58,837.13 503.80,838.60 C507.02,840.07 509.73,840.43 512.70,841.10 C515.67,841.77 519.38,841.60 521.60,842.60 C523.82,843.60 524.52,845.00 526.00,847.10 C527.48,849.20 528.77,851.37 530.50,855.20 C532.23,859.03 534.43,865.77 536.40,870.10 C538.37,874.43 540.08,878.73 542.30,881.20 C544.52,883.67 547.22,885.03 549.70,884.90 C552.18,884.77 555.22,882.87 557.20,880.40 C559.18,877.93 560.13,874.78 561.60,870.10 C563.07,865.42 564.52,858.23 566.00,852.30 C567.48,846.37 568.77,839.45 570.50,834.50 C572.23,829.55 574.18,825.25 576.40,822.60 C578.62,819.95 580.58,819.08 583.80,818.60 C587.02,818.12 591.73,819.28 595.70,819.70 C599.67,820.12 604.27,820.82 607.60,821.10 C610.93,821.38 614.35,821.35 615.70,821.40" stroke="#3a9fcb" stroke-width="1.5" fill="none"/>
<circle cx="320.2" cy="984.4" r="3" fill="#1c9ce0"/><circle cx="426.2" cy="984.4" r="3" fill="#8ec8ea"/>
<path d="M691.5,799.70 L1057,799.70" stroke="#ececec" stroke-width="1" fill="none"/>
<path d="M691.5,845.80 L1057,845.80" stroke="#ececec" stroke-width="1" fill="none"/>
<path d="M691.5,891.60 L1057,891.60" stroke="#ececec" stroke-width="1" fill="none"/>
<path d="M904,938 L1057,938" stroke="#a4b6bf" stroke-width="1.2" stroke-dasharray="3.4 3.1" fill="none"/>
<path d="M691.50,938.00 C722.92,938.00 845.95,938.05 880.00,938.00 C914.05,937.95 892.17,937.90 895.80,937.70 C899.43,937.50 899.18,937.40 901.80,936.80 C904.42,936.20 908.27,934.75 911.50,934.10 C914.73,933.45 916.33,933.17 921.20,932.90 C926.07,932.63 933.82,932.62 940.70,932.50 C947.58,932.38 957.65,932.50 962.50,932.20 C967.35,931.90 967.38,931.32 969.80,930.70 C972.22,930.08 974.58,929.00 977.00,928.50 C979.42,928.00 981.87,927.93 984.30,927.70 C986.73,927.47 989.58,928.02 991.60,927.10 C993.62,926.18 994.98,924.83 996.40,922.20 C997.82,919.57 998.88,916.75 1000.10,911.30 C1001.32,905.85 1002.58,897.58 1003.70,889.50 C1004.82,881.42 1005.88,870.68 1006.80,862.80 C1007.72,854.92 1008.30,848.47 1009.20,842.20 C1010.10,835.93 1011.08,830.07 1012.20,825.20 C1013.32,820.33 1014.48,816.13 1015.90,813.00 C1017.32,809.87 1019.08,807.65 1020.70,806.40 C1022.32,805.15 1023.58,805.45 1025.60,805.50 C1027.62,805.55 1030.38,806.05 1032.80,806.70 C1035.22,807.35 1037.67,808.58 1040.10,809.40 C1042.53,810.22 1044.67,811.20 1047.40,811.60 C1050.13,812.00 1054.98,811.77 1056.50,811.80" stroke="#3a9fcb" stroke-width="1.5" fill="none"/>
<circle cx="761.3" cy="984.0" r="3" fill="#1c9ce0"/><circle cx="866.8" cy="984.0" r="3" fill="#8ec8ea"/>
<path d="M1129.60,836.4 L1132.40,839.2 M1130.20,839.4 L1132.60,839.4 L1132.60,837.0" stroke="#616161" stroke-width="1.1" fill="none"/>
<path d="M1233.60,836.4 L1236.40,839.2 M1234.20,839.4 L1236.60,839.4 L1236.60,837.0" stroke="#616161" stroke-width="1.1" fill="none"/>
<path d="M1340.70,836.4 L1343.50,839.2 M1341.30,839.4 L1343.70,839.4 L1343.70,837.0" stroke="#616161" stroke-width="1.1" fill="none"/>
<path d="M1442.50,836.4 L1445.30,839.2 M1443.10,839.4 L1445.50,839.4 L1445.50,837.0" stroke="#616161" stroke-width="1.1" fill="none"/>
<g fill="#303030"><path d="M1101.4,804.6 L1105.6,804.6 L1103.5,802.4 Z M1101.4,813.4 L1105.6,813.4 L1103.5,815.6 Z"/><path d="M1100.8,808.0 L1106.2,807.0 M1100.8,810.6 L1106.2,809.6" stroke="#303030" stroke-width="1.1"/></g>
<path d="M1097.8,993.7 L1097.8,864 Q1097.8,860 1101.8,860 L1178,860 L1178,993.7 Z" fill="#325de6"/>
<path d="M1097.8,888.2 L1178,888.2" stroke="#5b80ee" stroke-width="1.4"/><path d="M1097.8,890.4 L1178,890.4" stroke="#1f3fb6" stroke-width="2"/><path d="M1097.8,892.6 L1178,892.6" stroke="#5b80ee" stroke-width="1.2"/><path d="M1097.8,894.8 L1178,894.8" stroke="#1f3fb6" stroke-width="2"/>
<path d="M1097.6,887.6 L1100,890.4 L1097.6,893 Z" fill="#fff"/><path d="M1097.6,892.2 L1100,894.8 L1097.6,897.6 Z" fill="#fff"/>
<defs><linearGradient id="cg" x1="0" x2="1" y1="0" y2="0"><stop offset="0" stop-color="#8daaf3"/><stop offset="1" stop-color="#b6c8f8"/></linearGradient></defs>
<path d="M1179,860 L1202,939.2 L1202,993.7 L1179,993.7 Z" fill="url(#cg)"/>
<path d="M1285.6,939.4 L1309.4,942.8 L1309.4,993.7 L1285.6,993.7 Z" fill="url(#cg)"/>
<path d="M1392.7,943.8 L1416.2,960 L1416.2,993.7 L1392.7,993.7 Z" fill="url(#cg)"/>
<rect x="1204.9" y="939.3" width="79.7" height="54.4" fill="#325de6"/>
<rect x="1311.8" y="943.8" width="79.9" height="49.9" fill="#325de6"/>
<path d="M1418.9,993.7 L1418.9,960 L1494.8,960 Q1498.8,960 1498.8,964 L1498.8,993.7 Z" fill="#325de6"/>
<path d="M361.29,1072.11 A94.9,94.9 0 1 1 273.38,1206.20" stroke="#16a8ee" stroke-width="21.3" fill="none"/>
<path d="M272.71,1204.69 A94.9,94.9 0 0 1 346.92,1072.98" stroke="#6d3be6" stroke-width="21.3" fill="none"/>
<path d="M348.56,1072.77 A94.9,94.9 0 0 1 353.51,1072.31" stroke="#5b7fe8" stroke-width="21.3" fill="none"/>
<path d="M354.83,1072.23 A94.9,94.9 0 0 1 358.81,1072.11" stroke="#d84fb8" stroke-width="21.3" fill="none"/>
<path d="M1491.7,1349.4 L1494.7,1344.8 L1497.7,1349.4 Z M1491.7,1593.6 L1494.7,1598.2 L1497.7,1593.6 Z" fill="#a8a8a8"/>
<circle cx="1225.4" cy="1878.5" r="3" fill="#16a8ee"/>
<circle cx="1278.8" cy="1878.5" r="3" fill="#6d3be6"/>
<circle cx="1339.9" cy="1878.5" r="3" fill="#5b7fe8"/></svg>
</body></html>
